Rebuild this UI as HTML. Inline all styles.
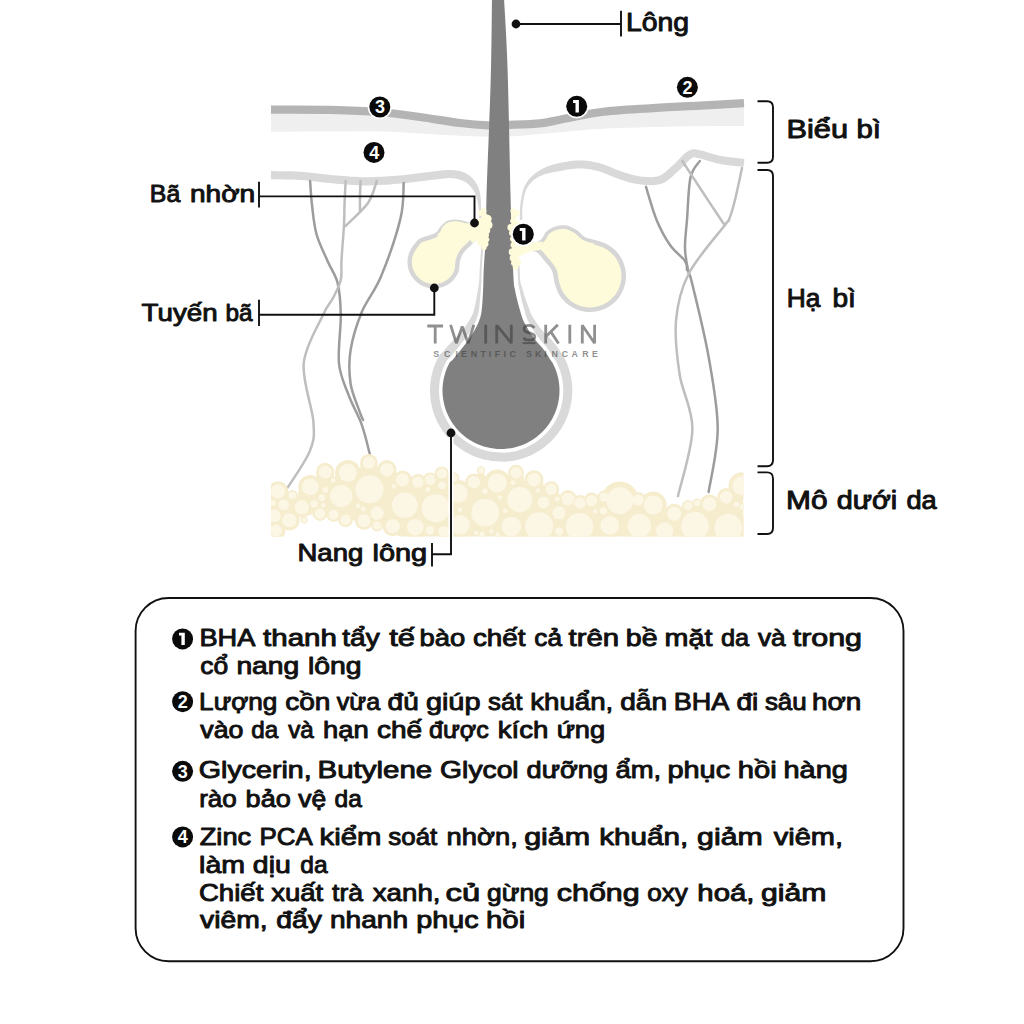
<!DOCTYPE html>
<html><head><meta charset="utf-8"><style>html,body{margin:0;padding:0;background:#fff;width:1024px;height:1024px;overflow:hidden;position:relative}</style></head><body>
<svg width="1024" height="1024" viewBox="0 0 1024 1024" style="position:absolute;left:0;top:0">
<rect width="1024" height="1024" fill="#ffffff"/>
<path d="M271.00,109.60 L275.61,109.60 L281.81,109.59 L289.20,109.57 L297.38,109.56 L305.94,109.57 L314.50,109.60 L322.65,109.68 L330.00,109.80 L336.75,109.96 L343.37,110.14 L349.85,110.36 L356.19,110.60 L362.38,110.88 L368.41,111.21 L374.29,111.58 L380.00,112.00 L385.48,112.48 L390.70,113.03 L395.73,113.63 L400.62,114.26 L405.44,114.93 L410.23,115.61 L415.07,116.31 L420.00,117.00 L425.08,117.73 L430.28,118.52 L435.53,119.34 L440.75,120.17 L445.88,120.98 L450.84,121.74 L455.57,122.42 L460.00,123.00 L464.12,123.48 L467.98,123.90 L471.64,124.26 L475.12,124.56 L478.47,124.81 L481.70,125.01 L484.87,125.17 L488.00,125.30 L490.98,125.38 L493.73,125.40 L496.34,125.36 L498.88,125.29 L501.43,125.18 L504.08,125.06 L506.91,124.93 L510.00,124.80 L513.44,124.67 L517.17,124.54 L521.10,124.40 L525.12,124.24 L529.13,124.06 L533.02,123.85 L536.67,123.59 L540.00,123.30 L542.84,122.98 L545.23,122.64 L547.35,122.28 L549.38,121.88 L551.47,121.43 L553.83,120.92 L556.61,120.35 L560.00,119.70 L563.97,118.92 L568.36,118.01 L573.10,117.01 L578.12,115.97 L583.39,114.92 L588.83,113.91 L594.38,112.99 L600.00,112.20 L605.77,111.53 L611.80,110.94 L618.02,110.42 L624.38,109.95 L630.81,109.52 L637.27,109.11 L643.68,108.71 L650.00,108.30 L656.29,107.90 L662.64,107.53 L669.01,107.19 L675.38,106.86 L681.69,106.54 L687.92,106.23 L694.04,105.91 L700.00,105.60 L706.09,105.27 L712.45,104.92 L718.87,104.57 L725.12,104.23 L730.99,103.91 L736.23,103.62 L740.65,103.38 L744.00,103.20 L744.00,125.90 L740.65,125.92 L736.23,125.94 L730.99,125.96 L725.12,125.99 L718.87,126.03 L712.45,126.08 L706.09,126.13 L700.00,126.20 L694.04,126.28 L687.92,126.36 L681.69,126.45 L675.38,126.56 L669.01,126.67 L662.64,126.80 L656.29,126.94 L650.00,127.10 L643.68,127.27 L637.27,127.45 L630.81,127.64 L624.38,127.85 L618.02,128.08 L611.80,128.32 L605.77,128.60 L600.00,128.90 L594.59,129.23 L589.53,129.60 L584.71,129.98 L580.00,130.39 L575.29,130.82 L570.47,131.27 L565.41,131.73 L560.00,132.20 L554.04,132.72 L547.55,133.30 L540.75,133.92 L533.88,134.55 L527.14,135.15 L520.77,135.70 L514.98,136.16 L510.00,136.50 L505.95,136.72 L502.67,136.84 L499.96,136.89 L497.62,136.88 L495.46,136.82 L493.27,136.74 L490.85,136.66 L488.00,136.60 L484.87,136.54 L481.70,136.48 L478.47,136.39 L475.12,136.29 L471.64,136.18 L467.98,136.04 L464.12,135.88 L460.00,135.70 L455.57,135.49 L450.84,135.24 L445.88,134.97 L440.75,134.68 L435.53,134.38 L430.28,134.08 L425.08,133.78 L420.00,133.50 L415.07,133.21 L410.23,132.89 L405.44,132.57 L400.62,132.25 L395.73,131.95 L390.70,131.68 L385.48,131.46 L380.00,131.30 L374.29,131.21 L368.41,131.18 L362.38,131.20 L356.19,131.25 L349.85,131.32 L343.37,131.39 L336.75,131.46 L330.00,131.50 L322.65,131.53 L314.50,131.55 L305.94,131.58 L297.38,131.61 L289.20,131.64 L281.81,131.66 L275.61,131.68 L271.00,131.70 Z" fill="#efefef"/>
<path d="M271.00,109.60 C280.83,109.63 311.83,109.40 330.00,109.80 C348.17,110.20 365.00,110.80 380.00,112.00 C395.00,113.20 406.67,115.17 420.00,117.00 C433.33,118.83 448.67,121.62 460.00,123.00 C471.33,124.38 479.67,125.00 488.00,125.30 C496.33,125.60 501.33,125.13 510.00,124.80 C518.67,124.47 531.67,124.15 540.00,123.30 C548.33,122.45 550.00,121.55 560.00,119.70 C570.00,117.85 585.00,114.10 600.00,112.20 C615.00,110.30 633.33,109.40 650.00,108.30 C666.67,107.20 684.33,106.45 700.00,105.60 C715.67,104.75 736.67,103.60 744.00,103.20" fill="none" stroke="#b4b4b4" stroke-width="8.2"/>
<path d="M270.94,179.30 L272.68,179.32 L274.90,179.34 L277.51,179.35 L280.43,179.37 L283.58,179.40 L286.87,179.44 L290.22,179.51 L293.53,179.60 L296.74,179.73 L299.74,179.89 L302.60,180.10 L305.45,180.37 L308.32,180.67 L311.20,181.01 L314.13,181.36 L317.09,181.73 L320.12,182.10 L323.22,182.45 L326.39,182.79 L329.64,183.08 L332.94,183.37 L336.32,183.67 L339.78,183.97 L343.31,184.27 L346.88,184.55 L350.49,184.81 L354.11,185.03 L357.75,185.21 L361.37,185.34 L364.97,185.40 L368.56,185.39 L372.18,185.33 L375.81,185.21 L379.44,185.05 L383.05,184.86 L386.63,184.63 L390.16,184.38 L393.64,184.12 L397.03,183.85 L400.35,183.59 L403.64,183.29 L406.91,182.96 L410.15,182.60 L413.34,182.22 L416.45,181.83 L419.49,181.44 L422.42,181.06 L425.23,180.70 L427.91,180.37 L430.47,180.07 L432.92,179.79 L435.27,179.50 L437.48,179.21 L439.57,178.94 L441.55,178.70 L443.42,178.48 L445.19,178.31 L446.85,178.18 L448.43,178.11 L449.95,178.10 L451.41,178.15 L452.77,178.23 L454.05,178.36 L455.25,178.53 L456.37,178.74 L457.45,178.98 L458.48,179.25 L459.48,179.56 L460.47,179.91 L461.45,180.24 L462.38,180.60 L463.26,180.98 L464.11,181.40 L464.93,181.85 L465.73,182.33 L466.51,182.85 L467.26,183.40 L468.00,183.98 L468.72,184.60 L469.42,185.25 L470.09,185.93 L470.73,186.63 L471.36,187.39 L471.96,188.18 L472.55,189.02 L473.12,189.89 L473.66,190.81 L474.19,191.77 L474.69,192.76 L475.17,193.78 L475.61,194.83 L476.03,195.95 L476.42,197.14 L476.79,198.38 L477.14,199.66 L477.46,200.97 L477.77,202.28 L478.06,203.59 L478.34,204.88 L478.61,206.13 L478.74,207.40 L478.84,208.74 L478.93,210.12 L478.99,211.50 L479.04,212.85 L479.09,214.15 L479.12,215.35 L479.15,216.42 L479.17,217.33 L479.20,218.05 L481.60,217.95 L481.57,217.25 L481.55,216.35 L481.52,215.28 L481.48,214.08 L481.44,212.77 L481.39,211.40 L481.32,209.99 L481.24,208.57 L481.13,207.19 L480.99,205.87 L480.97,204.57 L480.94,203.24 L480.90,201.88 L480.85,200.49 L480.77,199.09 L480.67,197.68 L480.53,196.29 L480.35,194.90 L480.12,193.54 L479.83,192.22 L479.50,190.97 L479.13,189.74 L478.73,188.53 L478.28,187.34 L477.79,186.17 L477.25,185.03 L476.66,183.91 L476.02,182.82 L475.32,181.76 L474.58,180.75 L473.80,179.78 L472.97,178.84 L472.10,177.94 L471.18,177.06 L470.21,176.23 L469.18,175.44 L468.10,174.69 L466.96,173.99 L465.78,173.34 L464.55,172.76 L463.32,172.23 L462.06,171.78 L460.75,171.37 L459.40,171.01 L458.00,170.70 L456.55,170.44 L455.03,170.22 L453.45,170.06 L451.80,169.95 L450.05,169.90 L448.22,169.91 L446.36,170.00 L444.47,170.14 L442.55,170.33 L440.57,170.55 L438.54,170.81 L436.43,171.08 L434.24,171.36 L431.95,171.65 L429.53,171.93 L426.94,172.23 L424.21,172.56 L421.37,172.93 L418.43,173.31 L415.42,173.70 L412.34,174.08 L409.21,174.45 L406.05,174.81 L402.86,175.13 L399.65,175.41 L396.38,175.68 L393.00,175.95 L389.57,176.20 L386.09,176.45 L382.57,176.67 L379.04,176.86 L375.50,177.02 L371.98,177.13 L368.48,177.19 L365.03,177.20 L361.58,177.14 L358.09,177.02 L354.57,176.85 L351.03,176.63 L347.50,176.37 L343.97,176.10 L340.48,175.80 L337.04,175.50 L333.65,175.20 L330.36,174.92 L327.19,174.62 L324.11,174.30 L321.08,173.95 L318.09,173.59 L315.12,173.22 L312.17,172.86 L309.22,172.52 L306.26,172.21 L303.28,171.93 L300.26,171.71 L297.12,171.54 L293.81,171.41 L290.41,171.31 L287.00,171.24 L283.67,171.20 L280.49,171.17 L277.56,171.15 L274.95,171.14 L272.76,171.12 L271.06,171.10 Z" fill="#d9d9d9"/>
<path d="M744.46,158.93 L742.99,158.76 L741.09,158.55 L738.85,158.32 L736.36,158.06 L733.69,157.77 L730.94,157.45 L728.18,157.11 L725.50,156.75 L722.99,156.37 L720.77,155.97 L718.70,155.53 L716.61,155.00 L714.51,154.41 L712.40,153.78 L710.32,153.13 L708.28,152.49 L706.29,151.88 L704.36,151.32 L702.49,150.84 L700.80,150.48 L699.46,150.22 L698.37,149.96 L697.34,149.71 L696.27,149.47 L695.07,149.29 L693.73,149.24 L692.29,149.40 L690.85,149.79 L689.44,150.38 L687.94,151.17 L686.32,152.26 L684.70,153.57 L683.10,155.04 L681.52,156.61 L679.93,158.25 L678.35,159.91 L676.78,161.54 L675.26,163.10 L673.80,164.51 L672.36,165.80 L670.87,167.09 L669.39,168.43 L667.97,169.73 L666.59,170.97 L665.25,172.13 L663.94,173.19 L662.64,174.12 L661.35,174.92 L660.06,175.58 L658.73,176.11 L657.28,176.51 L655.70,176.82 L654.00,177.03 L652.20,177.14 L650.33,177.17 L648.40,177.12 L646.43,177.01 L644.44,176.85 L642.45,176.65 L640.50,176.43 L638.63,176.17 L636.77,175.84 L634.89,175.44 L632.99,174.98 L631.08,174.46 L629.14,173.90 L627.19,173.30 L625.22,172.68 L623.23,172.04 L621.27,171.41 L619.37,170.75 L617.47,170.03 L615.54,169.24 L613.57,168.40 L611.57,167.54 L609.54,166.68 L607.47,165.83 L605.37,165.03 L603.22,164.29 L601.08,163.65 L598.98,163.10 L596.90,162.60 L594.82,162.14 L592.73,161.72 L590.64,161.36 L588.54,161.04 L586.42,160.79 L584.31,160.59 L582.18,160.46 L580.04,160.40 L577.85,160.42 L575.64,160.54 L573.43,160.74 L571.25,161.00 L569.09,161.30 L566.98,161.64 L564.92,162.00 L562.94,162.37 L561.05,162.73 L559.25,163.07 L557.51,163.40 L555.82,163.75 L554.19,164.17 L552.62,164.66 L551.08,165.17 L549.58,165.70 L548.11,166.25 L546.66,166.84 L545.24,167.47 L543.84,168.13 L542.48,168.82 L541.15,169.53 L539.84,170.27 L538.55,171.03 L537.30,171.83 L536.07,172.67 L534.89,173.54 L533.74,174.46 L532.64,175.43 L531.60,176.43 L530.61,177.46 L529.67,178.52 L528.76,179.61 L527.90,180.74 L527.08,181.91 L526.30,183.12 L525.57,184.37 L524.89,185.68 L524.25,187.03 L523.67,188.44 L523.13,189.93 L522.66,191.50 L522.24,193.13 L521.87,194.80 L521.54,196.50 L521.25,198.22 L520.99,199.93 L520.75,201.61 L520.52,203.26 L520.31,204.86 L520.13,206.50 L520.00,208.23 L519.91,210.00 L519.86,211.76 L519.83,213.49 L519.82,215.12 L519.82,216.63 L519.82,217.97 L519.82,219.10 L519.80,219.98 L522.20,220.02 L522.22,219.12 L522.22,217.98 L522.22,216.63 L522.22,215.13 L522.23,213.51 L522.26,211.82 L522.31,210.09 L522.40,208.38 L522.52,206.72 L522.69,205.14 L522.90,203.58 L523.12,201.96 L523.39,200.31 L523.69,198.65 L524.02,197.00 L524.39,195.37 L524.81,193.80 L525.27,192.29 L525.77,190.87 L526.33,189.56 L526.95,188.33 L527.61,187.16 L528.32,186.04 L529.07,184.98 L529.86,183.97 L530.69,183.01 L531.57,182.09 L532.48,181.21 L533.43,180.37 L534.40,179.57 L535.41,178.82 L536.45,178.13 L537.53,177.48 L538.66,176.87 L539.83,176.29 L541.03,175.75 L542.27,175.24 L543.54,174.76 L544.84,174.30 L546.16,173.87 L547.47,173.48 L548.79,173.13 L550.13,172.82 L551.51,172.53 L552.92,172.28 L554.37,172.05 L555.88,171.83 L557.44,171.58 L559.06,171.25 L560.75,170.93 L562.55,170.59 L564.42,170.23 L566.34,169.87 L568.30,169.53 L570.29,169.21 L572.27,168.93 L574.25,168.70 L576.20,168.52 L578.11,168.42 L579.96,168.40 L581.82,168.45 L583.69,168.57 L585.58,168.74 L587.46,168.97 L589.36,169.26 L591.27,169.59 L593.18,169.97 L595.10,170.39 L597.02,170.86 L598.92,171.35 L600.78,171.90 L602.63,172.54 L604.53,173.27 L606.46,174.06 L608.43,174.90 L610.43,175.76 L612.46,176.62 L614.53,177.47 L616.63,178.27 L618.73,178.99 L620.77,179.65 L622.78,180.30 L624.81,180.94 L626.86,181.57 L628.92,182.17 L631.01,182.73 L633.11,183.24 L635.23,183.69 L637.37,184.07 L639.50,184.37 L641.60,184.61 L643.72,184.82 L645.88,184.99 L648.08,185.12 L650.30,185.17 L652.52,185.13 L654.74,184.99 L656.94,184.72 L659.12,184.30 L661.27,183.69 L663.34,182.88 L665.29,181.89 L667.09,180.77 L668.78,179.56 L670.37,178.28 L671.89,176.97 L673.35,175.65 L674.77,174.35 L676.18,173.08 L677.64,171.80 L679.25,170.37 L680.90,168.77 L682.53,167.11 L684.13,165.43 L685.70,163.79 L687.20,162.23 L688.63,160.82 L689.94,159.61 L691.09,158.68 L692.06,158.03 L692.88,157.60 L693.47,157.35 L693.82,157.26 L694.03,157.24 L694.30,157.25 L694.77,157.33 L695.50,157.49 L696.51,157.74 L697.78,158.04 L699.20,158.32 L700.66,158.62 L702.24,159.03 L703.99,159.54 L705.90,160.13 L707.93,160.77 L710.06,161.43 L712.28,162.10 L714.56,162.73 L716.88,163.32 L719.23,163.83 L721.70,164.26 L724.36,164.67 L727.15,165.05 L729.99,165.40 L732.81,165.72 L735.51,166.01 L738.02,166.28 L740.25,166.51 L742.11,166.71 L743.54,166.87 Z" fill="#d9d9d9"/>
<path d="M482.12,213.90 L482.03,219.30 L481.92,224.77 L481.80,230.14 L481.66,235.22 L481.50,239.84 L481.31,244.10 L481.09,248.21 L480.85,252.16 L480.59,255.98 L480.34,259.65 L480.10,263.17 L479.88,266.56 L479.70,269.81 L479.58,272.83 L479.49,275.59 L479.42,278.14 L479.30,280.55 L478.98,282.85 L478.66,285.11 L478.31,287.39 L477.92,289.76 L477.49,292.28 L477.03,294.91 L476.56,297.58 L476.08,300.20 L475.60,302.74 L475.12,305.11 L474.65,307.25 L474.20,309.10 L473.79,310.64 L473.43,311.89 L473.09,312.89 L472.77,313.70 L472.45,314.44 L472.09,315.20 L471.67,316.07 L471.18,317.06 L470.66,318.04 L470.11,318.99 L469.52,319.97 L468.89,320.97 L468.22,322.00 L467.51,323.05 L466.78,324.13 L466.02,325.20 L465.26,326.26 L464.48,327.30 L463.68,328.34 L462.86,329.39 L462.01,330.44 L461.14,331.49 L460.24,332.55 L459.34,333.58 L458.46,334.61 L457.54,335.64 L456.57,336.71 L455.55,337.81 L454.50,338.94 L453.42,340.10 L452.31,341.29 L451.20,342.49 L450.06,343.71 L448.84,345.02 L447.58,346.36 L446.36,347.74 L445.27,349.09 L444.27,350.31 L443.43,351.34 L444.07,350.77 L439.98,354.51 L436.86,360.05 L435.17,363.90 L433.72,367.83 L432.49,371.84 L431.51,375.92 L430.77,380.05 L430.28,384.22 L430.03,388.41 L430.03,392.60 L430.28,396.79 L430.77,400.96 L431.51,405.09 L432.50,409.17 L433.72,413.18 L435.18,417.11 L436.86,420.95 L438.77,424.69 L440.90,428.31 L443.24,431.79 L445.78,435.13 L448.51,438.31 L451.43,441.33 L454.52,444.17 L457.77,446.82 L461.17,449.28 L464.71,451.53 L468.38,453.56 L472.16,455.38 L476.04,456.97 L480.01,458.33 L484.06,459.45 L488.16,460.33 L492.30,460.97 L496.48,461.36 L500.67,461.50 L504.89,461.69 L509.08,461.34 L513.25,460.74 L517.38,459.89 L521.45,458.80 L525.45,457.48 L529.36,455.92 L533.18,454.13 L536.88,452.11 L540.46,449.89 L543.90,447.45 L547.18,444.82 L550.31,442.00 L553.27,439.00 L556.04,435.82 L558.62,432.49 L561.00,429.02 L563.17,425.41 L565.12,421.67 L566.85,417.83 L568.35,413.89 L569.62,409.87 L570.64,405.79 L571.42,401.65 L571.96,397.47 L572.25,393.26 L572.29,389.05 L572.08,384.84 L571.62,380.66 L570.91,376.50 L569.96,372.40 L568.77,368.35 L567.35,364.39 L565.69,360.52 L563.48,356.17 L560.97,352.64 L560.88,352.46 L560.28,351.50 L559.52,350.25 L558.63,348.82 L557.57,347.30 L556.39,345.74 L555.14,344.15 L553.83,342.56 L552.49,341.01 L551.14,339.57 L549.82,338.24 L548.57,337.00 L547.39,335.85 L546.31,334.79 L545.34,333.82 L544.46,332.89 L543.57,331.89 L542.66,330.83 L541.77,329.77 L540.90,328.71 L540.05,327.64 L539.22,326.56 L538.41,325.48 L537.61,324.39 L536.81,323.28 L536.04,322.18 L535.30,321.11 L534.59,320.05 L533.93,319.02 L533.30,318.02 L532.72,317.05 L532.19,316.12 L531.71,315.22 L531.27,314.30 L530.84,313.32 L530.41,312.28 L529.98,311.16 L529.54,309.98 L529.08,308.73 L528.61,307.47 L528.15,306.26 L527.71,305.09 L527.27,303.92 L526.85,302.74 L526.43,301.57 L526.02,300.39 L525.61,299.21 L525.21,298.03 L524.82,296.84 L524.43,295.64 L524.04,294.46 L523.67,293.29 L523.31,292.13 L522.96,290.97 L522.63,289.82 L522.30,288.58 L521.95,287.36 L521.63,286.36 L521.41,285.80 L521.27,285.49 L521.09,284.97 L520.84,283.92 L520.51,282.18 L520.09,279.61 L519.90,276.15 L519.71,271.94 L519.50,267.15 L519.30,261.94 L517.30,262.02 L517.51,267.24 L517.71,272.03 L517.90,276.25 L518.09,279.73 L518.27,282.35 L518.42,284.16 L518.56,285.32 L518.68,286.00 L518.79,286.46 L518.95,287.06 L519.18,287.97 L519.42,289.14 L519.64,290.40 L519.86,291.60 L520.10,292.81 L520.35,294.03 L520.62,295.25 L520.89,296.48 L521.17,297.72 L521.46,298.95 L521.75,300.19 L522.04,301.41 L522.35,302.64 L522.66,303.87 L522.98,305.10 L523.31,306.33 L523.65,307.56 L524.00,308.81 L524.35,310.08 L524.69,311.35 L525.03,312.58 L525.36,313.79 L525.71,314.97 L526.08,316.12 L526.48,317.25 L526.92,318.37 L527.41,319.51 L527.95,320.67 L528.54,321.85 L529.16,323.03 L529.81,324.23 L530.50,325.44 L531.20,326.66 L531.93,327.88 L532.68,329.10 L533.44,330.32 L534.22,331.53 L535.03,332.75 L535.85,333.96 L536.71,335.17 L537.59,336.39 L538.48,337.58 L539.41,338.75 L540.41,339.94 L541.47,341.16 L542.59,342.41 L543.72,343.69 L544.86,345.00 L545.97,346.34 L547.03,347.71 L548.06,349.13 L549.08,350.62 L550.07,352.13 L551.01,353.60 L551.86,354.98 L552.62,356.21 L553.24,357.22 L553.61,357.81 L555.78,360.84 L557.52,364.30 L558.97,367.69 L560.22,371.15 L561.26,374.68 L562.09,378.27 L562.70,381.90 L563.10,385.56 L563.29,389.23 L563.25,392.92 L563.00,396.59 L562.53,400.24 L561.85,403.86 L560.96,407.43 L559.85,410.94 L558.54,414.38 L557.03,417.74 L555.32,421.00 L553.43,424.15 L551.35,427.19 L549.09,430.10 L546.67,432.87 L544.09,435.50 L541.35,437.96 L538.48,440.26 L535.48,442.39 L532.35,444.34 L529.12,446.09 L525.78,447.66 L522.36,449.02 L518.87,450.18 L515.31,451.13 L511.71,451.87 L508.06,452.40 L504.40,452.71 L500.72,452.50 L497.05,452.37 L493.41,452.03 L489.79,451.48 L486.20,450.71 L482.67,449.73 L479.21,448.54 L475.82,447.15 L472.51,445.57 L469.31,443.79 L466.22,441.83 L463.25,439.68 L460.41,437.37 L457.71,434.89 L455.17,432.25 L452.78,429.47 L450.56,426.56 L448.52,423.51 L446.66,420.36 L444.99,417.09 L443.52,413.74 L442.25,410.30 L441.18,406.80 L440.32,403.24 L439.68,399.63 L439.24,395.99 L439.03,392.34 L439.03,388.67 L439.24,385.02 L439.67,381.38 L440.32,377.77 L441.18,374.21 L442.25,370.70 L443.52,367.27 L444.99,363.91 L447.00,360.15 L450.14,357.42 L450.41,357.02 L451.25,355.99 L452.24,354.77 L453.35,353.42 L454.51,351.99 L455.68,350.54 L456.82,349.13 L457.87,347.81 L458.87,346.56 L459.88,345.30 L460.88,344.06 L461.87,342.82 L462.84,341.60 L463.78,340.38 L464.68,339.18 L465.54,337.98 L466.41,336.79 L467.26,335.59 L468.09,334.39 L468.89,333.20 L469.67,332.01 L470.42,330.81 L471.15,329.62 L471.86,328.43 L472.55,327.23 L473.22,326.03 L473.86,324.83 L474.48,323.65 L475.06,322.47 L475.61,321.31 L476.11,320.15 L476.58,318.99 L476.99,317.87 L477.36,316.85 L477.67,315.90 L477.95,314.95 L478.20,313.92 L478.45,312.73 L478.71,311.34 L478.97,309.67 L479.24,307.71 L479.50,305.48 L479.75,303.04 L480.00,300.46 L480.23,297.79 L480.45,295.10 L480.66,292.45 L480.85,289.89 L481.02,287.49 L481.15,285.18 L481.26,282.90 L481.36,280.59 L481.42,278.19 L481.49,275.65 L481.57,272.90 L481.70,269.90 L481.88,266.68 L482.09,263.31 L482.33,259.78 L482.59,256.11 L482.84,252.29 L483.09,248.32 L483.31,244.20 L483.50,239.92 L483.66,235.28 L483.80,230.19 L483.92,224.81 L484.03,219.34 L484.12,213.94 Z" fill="#d9d9d9"/>
<path d="M606.90,244.21 L608.62,245.21 L610.30,246.31 L611.94,247.49 L613.51,248.76 L615.01,250.11 L616.40,251.52 L617.71,253.02 L618.94,254.61 L620.10,256.27 L621.16,257.99 L622.12,259.75 L622.97,261.55 L623.72,263.39 L624.36,265.29 L624.91,267.24 L625.35,269.22 L625.68,271.20 L625.89,273.18 L625.99,275.16 L625.97,277.17 L625.85,279.19 L625.61,281.20 L625.27,283.18 L624.83,285.12 L624.27,287.02 L623.59,288.92 L622.81,290.78 L621.93,292.60 L620.96,294.36 L619.90,296.04 L618.75,297.66 L617.49,299.23 L616.14,300.74 L614.71,302.17 L613.22,303.51 L611.67,304.75 L610.05,305.90 L608.34,306.97 L606.57,307.95 L604.75,308.83 L602.90,309.61 L601.02,310.27 L599.12,310.82 L597.16,311.27 L595.16,311.62 L593.15,311.85 L591.15,311.98 L589.16,311.99 L587.18,311.89 L585.18,311.67 L583.18,311.34 L581.21,310.90 L579.27,310.36 L577.39,309.72 L575.55,308.97 L573.74,308.11 L571.96,307.14 L570.24,306.08 L568.59,304.93 L567.02,303.71 L565.53,302.40 L564.10,300.99 L562.74,299.49 L561.46,297.92 L560.27,296.30 L559.20,294.63 L558.24,292.91 L557.41,291.12 L556.68,289.27 L556.01,287.38 L555.39,285.44 L554.79,283.48 L554.28,281.45 L553.89,279.31 L553.56,277.14 L553.18,274.99 L552.69,272.92 L552.00,271.00 L551.09,269.24 L550.02,267.59 L548.83,266.03 L547.56,264.52 L546.27,263.02 L545.00,261.50 L543.70,259.89 L542.33,258.20 L540.94,256.53 L539.56,254.96 L538.23,253.59 L537.00,252.50 L535.83,251.79 L534.67,251.41 L533.56,251.22 L532.56,251.09 L531.69,250.90 L531.00,250.50 L530.41,249.92 L529.85,249.26 L529.44,248.53 L529.26,247.73 L529.41,246.89 L530.00,246.00 L531.20,245.06 L532.98,244.07 L535.09,243.03 L537.30,241.94 L539.35,240.79 L541.00,239.60 L542.20,238.30 L543.14,236.87 L543.93,235.39 L544.67,233.94 L545.49,232.58 L546.50,231.40 L547.68,230.38 L548.93,229.45 L550.26,228.63 L551.67,227.89 L553.15,227.25 L554.70,226.70 L556.36,226.21 L558.13,225.76 L559.98,225.41 L561.86,225.19 L563.75,225.14 L565.60,225.30 L567.46,225.70 L569.36,226.33 L571.27,227.13 L573.14,228.04 L574.93,229.02 L576.60,230.00 L578.10,231.06 L579.44,232.27 L580.71,233.54 L581.97,234.79 L583.31,235.93 L584.80,236.90 L586.46,237.65 L588.22,238.24 L590.06,238.73 L591.94,239.18 L593.83,239.65 L595.70,240.20 L597.57,240.79 L599.47,241.36 L601.39,241.96 L603.28,242.61 L605.13,243.35 Z" fill="#d6d6d6"/>
<path d="M604.73,248.27 L606.21,249.13 L607.70,250.10 L609.14,251.15 L610.53,252.26 L611.83,253.44 L613.03,254.65 L614.16,255.95 L615.24,257.33 L616.25,258.79 L617.18,260.30 L618.02,261.84 L618.76,263.40 L619.40,264.99 L619.97,266.65 L620.45,268.36 L620.83,270.09 L621.12,271.83 L621.30,273.54 L621.39,275.26 L621.38,277.01 L621.27,278.78 L621.06,280.54 L620.76,282.27 L620.38,283.95 L619.89,285.60 L619.30,287.26 L618.62,288.89 L617.85,290.49 L617.00,292.03 L616.08,293.48 L615.08,294.88 L613.98,296.25 L612.80,297.57 L611.55,298.83 L610.24,300.00 L608.90,301.08 L607.49,302.07 L606.01,303.01 L604.45,303.86 L602.86,304.64 L601.24,305.32 L599.62,305.89 L597.96,306.37 L596.25,306.76 L594.50,307.06 L592.74,307.27 L590.99,307.38 L589.27,307.39 L587.55,307.30 L585.81,307.11 L584.06,306.82 L582.32,306.44 L580.63,305.97 L579.00,305.41 L577.41,304.76 L575.82,304.01 L574.27,303.16 L572.76,302.23 L571.31,301.23 L569.96,300.17 L568.66,299.03 L567.41,297.80 L566.22,296.49 L565.10,295.12 L564.07,293.70 L563.14,292.27 L562.35,290.83 L561.64,289.30 L560.98,287.66 L560.37,285.91 L559.78,284.06 L559.22,282.25 L558.78,280.48 L558.43,278.55 L558.09,276.39 L557.69,274.06 L557.10,271.62 L556.22,269.17 L555.06,266.92 L553.77,264.94 L552.42,263.16 L551.07,261.55 L549.78,260.04 L548.55,258.58 L547.28,257.00 L545.89,255.28 L544.43,253.54 L542.94,251.85 L541.42,250.28 L539.76,248.82 L537.78,247.62 L535.79,246.95 L534.24,246.67 L533.33,246.56 L533.33,246.60 L533.79,246.85 L533.79,246.80 L533.63,246.63 L533.72,246.86 L533.86,247.67 L533.64,248.70 L533.29,249.22 L533.70,248.93 L535.11,248.15 L537.14,247.15 L539.44,246.01 L541.80,244.68 L543.37,242.31 L545.04,240.52 L546.24,238.71 L547.12,237.06 L547.81,235.69 L548.41,234.69 L549.06,233.93 L549.93,233.19 L550.95,232.43 L552.05,231.75 L553.21,231.14 L554.46,230.60 L555.82,230.12 L557.31,229.68 L558.90,229.28 L560.52,228.97 L562.12,228.78 L563.64,228.74 L565.06,228.86 L566.51,229.18 L568.10,229.70 L569.78,230.41 L571.49,231.24 L573.16,232.15 L574.65,233.02 L575.85,233.88 L576.96,234.88 L578.17,236.09 L579.53,237.43 L581.15,238.82 L583.08,240.06 L585.14,241.00 L587.19,241.69 L589.18,242.22 L591.09,242.68 L592.89,243.12 L594.36,244.60 L596.21,245.19 L598.13,245.76 L599.96,246.33 L601.68,246.92 L603.26,247.55 Z" fill="#fdfbd9"/>
<path d="M543,241.5 L532,242.5 L518,238 L516,258 L530,251.5 L540,250 Z" fill="#fdfbd9"/>
<path d="M457.40,274.44 L456.72,275.58 L455.92,276.79 L455.02,278.04 L454.04,279.27 L453.01,280.44 L451.94,281.51 L450.82,282.48 L449.63,283.39 L448.39,284.24 L447.10,285.03 L445.78,285.73 L444.44,286.36 L443.06,286.90 L441.64,287.37 L440.18,287.76 L438.71,288.07 L437.23,288.30 L435.76,288.44 L434.28,288.50 L432.78,288.47 L431.28,288.35 L429.78,288.16 L428.31,287.88 L426.87,287.52 L425.46,287.08 L424.06,286.56 L422.68,285.95 L421.33,285.27 L420.04,284.52 L418.80,283.71 L417.61,282.82 L416.47,281.86 L415.37,280.83 L414.32,279.74 L413.35,278.60 L412.45,277.43 L411.63,276.20 L410.86,274.91 L410.17,273.57 L409.55,272.20 L409.01,270.80 L408.55,269.39 L408.18,267.96 L407.89,266.49 L407.68,265.00 L407.55,263.50 L407.50,262.00 L407.54,260.52 L407.67,259.05 L407.88,257.56 L408.18,256.09 L408.55,254.63 L409.01,253.20 L409.53,251.82 L410.16,250.47 L410.90,249.14 L411.72,247.85 L412.58,246.59 L413.45,245.40 L414.31,244.27 L415.09,243.20 L415.84,242.19 L416.59,241.22 L417.41,240.32 L418.36,239.48 L419.50,238.70 L420.90,238.00 L422.54,237.39 L424.30,236.84 L426.08,236.32 L427.79,235.82 L429.30,235.30 L430.63,234.82 L431.86,234.39 L433.01,233.98 L434.09,233.53 L435.11,232.99 L436.10,232.30 L437.02,231.42 L437.84,230.39 L438.61,229.27 L439.36,228.12 L440.15,227.01 L441.00,226.00 L441.90,225.06 L442.82,224.14 L443.77,223.26 L444.76,222.44 L445.80,221.71 L446.90,221.10 L448.09,220.61 L449.36,220.22 L450.68,219.93 L452.03,219.71 L453.38,219.57 L454.70,219.50 L456.02,219.52 L457.35,219.64 L458.68,219.83 L460.00,220.07 L461.28,220.34 L462.50,220.60 L463.65,220.86 L464.74,221.15 L465.80,221.46 L466.84,221.79 L467.90,222.14 L469.00,222.50 L470.16,222.85 L471.37,223.20 L472.59,223.56 L473.80,223.96 L474.94,224.43 L476.00,225.00 L477.00,225.68 L477.98,226.44 L478.91,227.28 L479.74,228.17 L480.45,229.08 L481.00,230.00 L481.39,230.97 L481.64,232.01 L481.78,233.08 L481.79,234.13 L481.69,235.12 L481.50,236.00 L481.15,236.78 L480.64,237.49 L480.01,238.14 L479.34,238.72 L478.68,239.24 L478.10,239.70 L477.61,240.03 L477.17,240.21 L476.74,240.32 L476.30,240.46 L475.79,240.69 L475.20,241.10 L474.52,241.69 L473.79,242.40 L472.99,243.21 L472.15,244.09 L471.25,245.03 L470.30,246.00 L469.24,247.02 L468.05,248.12 L466.81,249.27 L465.59,250.46 L464.46,251.67 L463.50,252.90 L462.71,254.15 L462.02,255.43 L461.43,256.74 L460.92,258.07 L460.48,259.39 L460.10,260.70 L459.82,262.02 L459.65,263.37 L459.55,264.72 L459.47,266.04 L459.37,267.31 L459.20,268.50 L458.99,269.58 L458.80,270.58 L458.58,271.52 L458.30,272.45 L457.92,273.41 Z" fill="#d6d6d6"/>
<path d="M453.54,272.32 L452.99,273.24 L452.30,274.30 L451.52,275.38 L450.67,276.45 L449.81,277.42 L448.94,278.28 L448.03,279.07 L447.04,279.83 L446.00,280.55 L444.92,281.21 L443.82,281.80 L442.71,282.31 L441.57,282.76 L440.38,283.15 L439.16,283.48 L437.92,283.74 L436.68,283.93 L435.46,284.05 L434.24,284.10 L432.99,284.07 L431.73,283.97 L430.47,283.81 L429.24,283.58 L428.06,283.29 L426.89,282.92 L425.72,282.48 L424.56,281.97 L423.43,281.40 L422.35,280.77 L421.32,280.10 L420.34,279.37 L419.38,278.57 L418.46,277.70 L417.59,276.79 L416.77,275.84 L416.03,274.86 L415.35,273.85 L414.71,272.77 L414.13,271.65 L413.61,270.50 L413.15,269.33 L412.78,268.17 L412.47,266.98 L412.23,265.75 L412.05,264.50 L411.94,263.24 L411.90,261.99 L411.93,260.77 L412.04,259.55 L412.22,258.31 L412.47,257.07 L412.78,255.84 L413.16,254.65 L413.59,253.53 L414.08,252.47 L414.69,251.39 L415.39,250.27 L416.17,249.14 L416.99,248.02 L417.83,246.90 L418.64,245.80 L419.34,244.84 L419.95,244.07 L420.50,243.46 L421.06,242.95 L421.71,242.50 L422.64,242.04 L423.96,241.55 L425.57,241.05 L427.32,240.55 L429.12,240.01 L430.76,239.45 L432.10,238.96 L433.32,238.54 L434.60,238.08 L435.97,237.51 L437.40,236.74 L437.75,234.31 L438.94,233.18 L439.93,231.94 L440.77,230.72 L441.51,229.58 L441.57,228.11 L442.34,227.21 L443.19,226.32 L444.07,225.43 L444.96,224.61 L445.85,223.87 L446.75,223.24 L447.68,222.72 L448.70,222.31 L449.82,221.96 L451.02,221.69 L452.26,221.50 L453.52,221.37 L454.74,221.30 L455.92,221.32 L457.14,221.42 L458.39,221.61 L459.65,221.84 L460.91,222.10 L462.11,222.36 L463.22,222.61 L464.26,222.89 L465.27,223.18 L466.29,223.51 L467.34,223.85 L468.46,224.22 L469.65,224.58 L470.87,224.93 L472.05,225.27 L473.17,225.65 L474.17,226.06 L475.07,226.54 L475.94,227.13 L476.82,227.82 L477.65,228.57 L477.77,229.86 L478.31,230.55 L478.67,231.16 L478.91,231.76 L479.09,232.48 L479.18,233.26 L479.19,234.03 L479.13,234.72 L477.32,234.63 L477.35,234.57 L477.26,234.66 L476.98,234.95 L476.53,235.34 L475.96,235.79 L475.51,236.15 L475.50,236.16 L475.74,236.05 L475.53,236.10 L474.72,236.35 L473.57,236.89 L472.48,237.64 L471.54,238.45 L470.69,239.28 L469.83,240.14 L468.97,241.05 L468.09,241.97 L467.20,242.88 L466.22,243.82 L465.06,244.89 L463.78,246.08 L462.44,247.39 L461.11,248.82 L459.91,250.36 L458.91,251.93 L458.07,253.49 L457.37,255.05 L456.78,256.58 L456.28,258.08 L455.83,259.62 L455.48,261.29 L455.27,262.94 L455.16,264.43 L455.08,265.74 L455.00,266.82 L454.86,267.78 L454.67,268.76 L454.50,269.66 L454.33,270.38 L454.15,270.99 L453.91,271.59 Z" fill="#fdfbd9"/>
<path d="M462,223.5 L476,223 L485,226 L486,244 L479,239.5 L472,243 Z" fill="#fdfbd9"/>
<path d="M492.00,-2.00 L491.92,4.20 L491.82,12.31 L491.71,21.95 L491.58,32.75 L491.42,44.33 L491.22,56.31 L490.99,68.33 L490.70,80.00 L490.33,92.19 L489.87,105.61 L489.35,119.70 L488.81,133.88 L488.27,147.57 L487.76,160.20 L487.33,171.21 L487.00,180.00 L486.78,186.19 L486.64,190.16 L486.56,192.48 L486.53,193.75 L486.51,194.55 L486.50,195.47 L486.47,197.09 L486.40,200.00 L486.31,204.11 L486.22,208.83 L486.12,213.97 L486.02,219.38 L485.92,224.85 L485.80,230.23 L485.66,235.34 L485.50,240.00 L485.31,244.30 L485.09,248.44 L484.84,252.42 L484.58,256.25 L484.33,259.92 L484.09,263.44 L483.87,266.80 L483.70,270.00 L483.57,272.98 L483.48,275.70 L483.42,278.23 L483.38,280.62 L483.33,282.94 L483.28,285.23 L483.21,287.57 L483.10,290.00 L482.97,292.57 L482.83,295.23 L482.67,297.94 L482.51,300.62 L482.33,303.23 L482.13,305.70 L481.92,307.98 L481.70,310.00 L481.47,311.73 L481.24,313.20 L481.01,314.48 L480.76,315.62 L480.48,316.69 L480.16,317.73 L479.81,318.82 L479.40,320.00 L478.94,321.25 L478.43,322.50 L477.88,323.75 L477.30,325.00 L476.69,326.25 L476.04,327.50 L475.38,328.75 L474.70,330.00 L474.00,331.25 L473.27,332.50 L472.52,333.75 L471.74,335.00 L470.94,336.25 L470.12,337.50 L469.27,338.75 L468.40,340.00 L467.50,341.25 L466.56,342.50 L465.60,343.75 L464.61,345.00 L463.61,346.25 L462.61,347.50 L461.60,348.75 L460.60,350.00 L459.55,351.32 L458.41,352.73 L457.23,354.19 L456.06,355.62 L454.96,356.98 L453.96,358.20 L453.13,359.23 L452.50,360.00 L449.73,362.34 L448.15,365.41 L446.76,368.58 L445.56,371.82 L444.56,375.13 L443.75,378.49 L443.14,381.89 L442.73,385.33 L442.53,388.78 L442.53,392.23 L442.73,395.68 L443.14,399.12 L443.75,402.52 L444.56,405.88 L445.56,409.19 L446.77,412.43 L448.16,415.59 L449.73,418.67 L451.48,421.65 L453.41,424.52 L455.50,427.27 L457.75,429.89 L460.16,432.38 L462.70,434.72 L465.38,436.90 L468.18,438.93 L471.10,440.78 L474.12,442.46 L477.24,443.96 L480.44,445.27 L483.71,446.39 L487.04,447.31 L490.42,448.04 L493.84,448.56 L497.28,448.88 L500.73,449.00 L504.19,448.91 L507.63,448.62 L511.05,448.13 L514.44,447.44 L517.78,446.54 L521.06,445.45 L524.27,444.17 L527.40,442.70 L530.44,441.05 L533.37,439.23 L536.19,437.23 L538.89,435.07 L541.46,432.75 L543.88,430.29 L546.16,427.69 L548.28,424.95 L550.23,422.10 L552.01,419.14 L553.61,416.08 L555.03,412.92 L556.26,409.69 L557.30,406.40 L558.14,403.04 L558.78,399.65 L559.22,396.22 L559.46,392.77 L559.49,389.31 L559.32,385.86 L558.94,382.42 L558.36,379.01 L557.58,375.65 L556.61,372.33 L555.44,369.08 L554.08,365.90 L552.53,362.81 L550.50,360.00 L550.01,359.23 L549.38,358.20 L548.63,356.98 L547.79,355.62 L546.88,354.19 L545.93,352.73 L544.96,351.32 L544.00,350.00 L543.01,348.75 L541.96,347.50 L540.85,346.25 L539.72,345.00 L538.59,343.75 L537.48,342.50 L536.41,341.25 L535.40,340.00 L534.45,338.75 L533.52,337.50 L532.62,336.25 L531.75,335.00 L530.90,333.75 L530.08,332.50 L529.28,331.25 L528.50,330.00 L527.74,328.75 L526.99,327.50 L526.27,326.25 L525.57,325.00 L524.90,323.75 L524.26,322.50 L523.66,321.25 L523.10,320.00 L522.59,318.75 L522.13,317.50 L521.72,316.25 L521.33,315.00 L520.97,313.75 L520.61,312.50 L520.26,311.25 L519.90,310.00 L519.54,308.75 L519.18,307.50 L518.83,306.25 L518.49,305.00 L518.15,303.75 L517.83,302.50 L517.51,301.25 L517.20,300.00 L516.90,298.75 L516.60,297.50 L516.30,296.25 L516.02,295.00 L515.74,293.75 L515.48,292.50 L515.23,291.25 L515.00,290.00 L514.79,288.96 L514.60,288.20 L514.43,287.57 L514.26,286.88 L514.10,285.95 L513.95,284.61 L513.78,282.69 L513.60,280.00 L513.41,276.47 L513.21,272.23 L513.01,267.42 L512.81,262.19 L512.60,256.68 L512.40,251.05 L512.20,245.44 L512.00,240.00 L511.82,235.16 L511.65,230.98 L511.49,227.01 L511.33,222.81 L511.16,217.95 L510.97,211.99 L510.75,204.49 L510.50,195.00 L510.21,182.84 L509.89,168.13 L509.55,151.66 L509.18,134.19 L508.80,116.51 L508.41,99.40 L508.01,83.64 L507.60,70.00 L507.16,57.97 L506.66,46.59 L506.14,35.95 L505.62,26.19 L505.12,17.40 L504.66,9.70 L504.28,3.19 L504.00,-2.00 Z" fill="#808080"/>
<circle cx="483.5" cy="211" r="3" fill="#fdfbd9"/>
<circle cx="484.5" cy="216" r="3" fill="#fdfbd9"/>
<circle cx="487.5" cy="219" r="4.2" fill="#fdfbd9"/>
<circle cx="488.5" cy="225" r="4" fill="#fdfbd9"/>
<circle cx="487" cy="230.5" r="3.2" fill="#fdfbd9"/>
<circle cx="486" cy="235" r="3" fill="#fdfbd9"/>
<circle cx="486.5" cy="239.5" r="2.8" fill="#fdfbd9"/>
<circle cx="485.5" cy="244" r="3" fill="#fdfbd9"/>
<circle cx="484" cy="247.5" r="2.6" fill="#fdfbd9"/>
<circle cx="481" cy="213" r="3" fill="#fdfbd9"/>
<circle cx="481" cy="222" r="4" fill="#fdfbd9"/>
<circle cx="481" cy="232" r="5" fill="#fdfbd9"/>
<circle cx="481" cy="242" r="4" fill="#fdfbd9"/>
<circle cx="513" cy="211" r="2.6" fill="#fdfbd9"/>
<circle cx="514" cy="216" r="3" fill="#fdfbd9"/>
<circle cx="513" cy="221" r="2.8" fill="#fdfbd9"/>
<circle cx="511" cy="227.5" r="3.6" fill="#fdfbd9"/>
<circle cx="512" cy="233" r="3" fill="#fdfbd9"/>
<circle cx="513" cy="239" r="3" fill="#fdfbd9"/>
<circle cx="513.5" cy="245" r="3" fill="#fdfbd9"/>
<circle cx="512.5" cy="252" r="3.8" fill="#fdfbd9"/>
<circle cx="513" cy="258" r="3.3" fill="#fdfbd9"/>
<circle cx="514" cy="263" r="3" fill="#fdfbd9"/>
<circle cx="515.5" cy="267" r="2.8" fill="#fdfbd9"/>
<circle cx="516.5" cy="213" r="3" fill="#fdfbd9"/>
<circle cx="516.5" cy="225" r="4" fill="#fdfbd9"/>
<circle cx="516.5" cy="240" r="5" fill="#fdfbd9"/>
<circle cx="517" cy="252" r="5" fill="#fdfbd9"/>
<circle cx="517" cy="262" r="4" fill="#fdfbd9"/>
<path d="M310.10,181.00 C310.42,185.00 310.92,196.08 312.00,205.00 C313.08,213.92 313.93,225.00 316.60,234.50 C319.27,244.00 324.50,253.92 328.00,262.00 C331.50,270.08 335.47,274.17 337.60,283.00 C339.73,291.83 340.57,301.58 340.80,315.00 C341.03,328.42 337.65,350.03 339.00,363.50 C340.35,376.97 345.10,385.58 348.90,395.80 C352.70,406.02 358.32,415.10 361.80,424.80 C365.28,434.50 368.47,449.13 369.80,454.00" fill="none" stroke="#9c9c9c" stroke-width="2.5" stroke-linecap="round"/>
<path d="M345.60,181.00 C345.42,185.00 344.77,197.70 344.50,205.00 C344.23,212.30 344.50,215.63 344.00,224.80 C343.50,233.97 342.03,250.85 341.50,260.00 C340.97,269.15 342.22,273.37 340.80,279.70 C339.38,286.03 335.97,292.12 333.00,298.00 C330.03,303.88 327.88,304.08 323.00,315.00 C318.12,325.92 305.30,345.73 303.70,363.50 C302.10,381.27 312.35,407.08 313.40,421.60 C314.45,436.12 314.30,439.58 310.00,450.60 C305.70,461.62 291.33,481.52 287.60,487.70" fill="none" stroke="#bebebe" stroke-width="2.5" stroke-linecap="round"/>
<path d="M376.80,181.00 C375.33,184.67 373.30,195.42 368.00,203.00 C362.70,210.58 348.83,222.58 345.00,226.50" fill="none" stroke="#bebebe" stroke-width="2.5" stroke-linecap="round"/>
<path d="M360.60,181.00 C360.50,183.50 360.10,190.83 360.00,196.00 C359.90,201.17 360.00,209.33 360.00,212.00" fill="none" stroke="#bebebe" stroke-width="2.5" stroke-linecap="round"/>
<path d="M403.70,183.00 C403.17,188.90 404.28,202.82 400.50,218.40 C396.72,233.98 387.45,260.90 381.00,276.50 C374.55,292.10 366.88,299.65 361.80,312.00 C356.72,324.35 352.38,338.77 350.50,350.60 C348.62,362.43 349.17,373.32 350.50,383.00 C351.83,392.68 356.42,402.53 358.50,408.70 C360.58,414.87 362.25,418.12 363.00,420.00" fill="none" stroke="#9c9c9c" stroke-width="2.5" stroke-linecap="round"/>
<path d="M646.00,186.90 C647.75,192.37 652.50,210.02 656.50,219.70 C660.50,229.38 665.25,238.12 670.00,245.00 C674.75,251.88 682.17,256.83 685.00,261.00 C687.83,265.17 686.67,268.50 687.00,270.00" fill="none" stroke="#9c9c9c" stroke-width="2.5" stroke-linecap="round"/>
<path d="M699.80,161.00 C698.25,163.75 692.63,167.72 690.50,177.50 C688.37,187.28 687.92,207.95 687.00,219.70 C686.08,231.45 684.83,239.62 685.00,248.00 C685.17,256.38 686.77,263.92 688.00,270.00 C689.23,276.08 688.97,270.03 692.40,284.50 C695.83,298.97 704.38,332.72 708.60,356.80 C712.82,380.88 717.70,406.47 717.70,429.00 C717.70,451.53 710.12,481.50 708.60,492.00" fill="none" stroke="#9c9c9c" stroke-width="2.5" stroke-linecap="round"/>
<path d="M682.30,161.00 C685.25,165.50 693.55,178.22 700.00,188.00 C706.45,197.78 716.83,213.53 721.00,219.70 C725.17,225.87 724.33,224.12 725.00,225.00" fill="none" stroke="#bebebe" stroke-width="2.5" stroke-linecap="round"/>
<path d="M742.00,168.00 C740.83,173.33 737.17,191.38 735.00,200.00 C732.83,208.62 730.67,215.53 729.00,219.70 C727.33,223.87 731.72,216.00 725.00,225.00 C718.28,234.00 696.87,257.77 688.70,273.70 C680.53,289.63 677.50,303.75 676.00,320.60 C674.50,337.45 676.97,356.73 679.70,374.80 C682.43,392.87 692.68,408.80 692.40,429.00 C692.12,449.20 680.40,484.83 678.00,496.00" fill="none" stroke="#bebebe" stroke-width="2.5" stroke-linecap="round"/>
<defs><clipPath id="fatclip"><rect x="271" y="440" width="472.5" height="96.5"/></clipPath></defs>
<g clip-path="url(#fatclip)">
<path d="M271.00,489.98 L273.00,488.51 L275.00,487.65 L277.00,487.25 L279.00,487.25 L281.00,487.65 L283.00,488.51 L285.00,489.98 L287.00,492.60 L289.00,497.10 L291.00,496.16 L293.00,496.04 L295.00,496.71 L297.00,498.64 L299.00,488.86 L301.00,485.32 L303.00,483.38 L305.00,482.13 L307.00,481.36 L309.00,480.97 L311.00,480.92 L313.00,481.21 L315.00,481.86 L317.00,473.83 L319.00,471.20 L321.00,469.81 L323.00,469.07 L325.00,468.80 L327.00,468.98 L329.00,469.62 L331.00,470.86 L333.00,473.12 L335.00,477.58 L337.00,471.93 L339.00,469.50 L341.00,467.96 L343.00,466.93 L345.00,466.31 L347.00,466.03 L349.00,466.06 L351.00,466.41 L353.00,467.10 L355.00,468.22 L357.00,469.90 L359.00,472.60 L361.00,464.82 L363.00,462.17 L365.00,460.81 L367.00,460.11 L369.00,459.90 L371.00,460.15 L373.00,460.91 L375.00,462.36 L377.00,465.26 L379.00,470.25 L381.00,468.13 L383.00,466.93 L385.00,466.29 L387.00,466.10 L389.00,466.33 L391.00,467.02 L393.00,468.29 L395.00,470.55 L397.00,478.18 L399.00,477.08 L401.00,476.52 L403.00,476.41 L405.00,476.74 L407.00,477.55 L409.00,479.01 L411.00,481.79 L413.00,481.76 L415.00,480.58 L417.00,480.06 L419.00,480.06 L421.00,480.58 L423.00,481.76 L425.00,480.54 L427.00,479.13 L429.00,478.50 L431.00,478.44 L433.00,478.95 L435.00,477.54 L437.00,474.32 L439.00,473.01 L441.00,472.46 L443.00,472.48 L445.00,473.10 L447.00,474.52 L449.00,478.40 L451.00,478.82 L453.00,478.23 L455.00,478.37 L457.00,479.30 L459.00,481.88 L461.00,485.58 L463.00,486.28 L465.00,486.97 L467.00,482.74 L469.00,480.89 L471.00,479.89 L473.00,479.45 L475.00,479.47 L477.00,475.22 L479.00,472.81 L481.00,472.30 L483.00,472.81 L485.00,475.22 L487.00,480.27 L489.00,478.35 L491.00,477.06 L493.00,476.20 L495.00,475.70 L497.00,475.50 L499.00,475.61 L501.00,476.02 L503.00,476.76 L505.00,477.91 L507.00,479.61 L509.00,474.93 L511.00,472.56 L513.00,471.38 L515.00,470.86 L517.00,470.86 L519.00,471.38 L521.00,472.56 L523.00,474.93 L525.00,482.46 L527.00,479.23 L529.00,477.60 L531.00,476.68 L533.00,476.25 L535.00,476.25 L537.00,476.68 L539.00,477.60 L541.00,479.23 L543.00,482.46 L545.00,490.21 L547.00,488.42 L549.00,487.52 L551.00,487.20 L553.00,487.39 L555.00,488.13 L557.00,489.64 L559.00,493.22 L561.00,499.34 L563.00,497.52 L565.00,496.51 L567.00,496.06 L569.00,496.06 L571.00,496.51 L573.00,497.52 L575.00,499.34 L577.00,501.58 L579.00,501.06 L581.00,501.06 L583.00,501.58 L585.00,502.23 L587.00,500.13 L589.00,499.07 L591.00,498.63 L593.00,498.71 L595.00,499.31 L597.00,500.61 L599.00,498.85 L601.00,497.23 L603.00,496.58 L605.00,494.69 L607.00,492.56 L609.00,490.97 L611.00,489.76 L613.00,488.86 L615.00,488.22 L617.00,487.81 L619.00,487.62 L621.00,487.64 L623.00,487.87 L625.00,488.33 L627.00,489.02 L629.00,489.98 L631.00,491.25 L633.00,492.93 L635.00,495.20 L637.00,498.06 L639.00,498.06 L641.00,498.58 L643.00,499.76 L645.00,500.40 L647.00,499.12 L649.00,498.28 L651.00,497.78 L653.00,497.60 L655.00,497.72 L657.00,498.15 L659.00,498.92 L661.00,500.10 L663.00,501.86 L665.00,504.65 L667.00,512.97 L669.00,511.32 L671.00,510.36 L673.00,509.88 L675.00,509.82 L677.00,510.17 L679.00,510.97 L681.00,512.38 L683.00,508.68 L685.00,506.80 L687.00,506.08 L689.00,506.08 L691.00,506.80 L693.00,506.94 L695.00,504.97 L697.00,504.50 L699.00,504.97 L701.00,505.32 L703.00,502.87 L705.00,501.49 L707.00,500.72 L709.00,500.41 L711.00,500.52 L713.00,501.05 L715.00,502.09 L717.00,503.89 L719.00,497.70 L721.00,495.75 L723.00,494.69 L725.00,494.18 L727.00,494.14 L729.00,488.06 L731.00,483.87 L733.00,481.64 L735.00,480.16 L737.00,479.16 L739.00,478.54 L741.00,478.24 L743.00,478.24 L744.00,538.00 L742.00,537.99 L740.00,537.99 L738.00,537.98 L736.00,537.98 L734.00,537.97 L732.00,537.97 L730.00,537.96 L728.00,537.95 L726.00,537.95 L724.00,537.94 L722.00,537.94 L720.00,537.93 L718.00,537.92 L716.00,537.92 L714.00,537.91 L712.00,537.91 L710.00,537.90 L708.00,537.90 L706.00,537.89 L704.00,537.88 L702.00,537.88 L700.00,537.87 L698.00,537.87 L696.00,537.86 L694.00,537.85 L692.00,537.85 L690.00,537.84 L688.00,537.84 L686.00,537.83 L684.00,537.83 L682.00,537.82 L680.00,537.81 L678.00,537.81 L676.00,537.80 L674.00,537.80 L672.00,537.79 L670.00,537.78 L668.00,537.78 L666.00,537.77 L664.00,537.77 L662.00,537.76 L660.00,537.76 L658.00,537.75 L656.00,537.74 L654.00,537.74 L652.00,537.73 L650.00,537.73 L648.00,537.72 L646.00,537.72 L644.00,537.71 L642.00,537.70 L640.00,537.70 L638.00,537.69 L636.00,537.69 L634.00,537.68 L632.00,537.67 L630.00,537.67 L628.00,537.66 L626.00,537.66 L624.00,537.65 L622.00,537.65 L620.00,537.64 L618.00,537.63 L616.00,537.63 L614.00,537.62 L612.00,537.62 L610.00,537.61 L608.00,537.60 L606.00,537.60 L604.00,537.59 L602.00,537.59 L600.00,537.58 L598.00,537.58 L596.00,537.57 L594.00,537.56 L592.00,537.56 L590.00,537.55 L588.00,537.55 L586.00,537.54 L584.00,537.53 L582.00,537.53 L580.00,537.52 L578.00,537.52 L576.00,537.51 L574.00,537.51 L572.00,537.50 L570.00,537.49 L568.00,537.49 L566.00,537.48 L564.00,537.48 L562.00,537.47 L560.00,537.47 L558.00,537.46 L556.00,537.45 L554.00,537.45 L552.00,537.44 L550.00,537.44 L548.00,537.43 L546.00,537.42 L544.00,537.42 L542.00,537.41 L540.00,537.41 L538.00,537.40 L536.00,537.40 L534.00,537.39 L532.00,537.38 L530.00,537.38 L528.00,537.37 L526.00,537.37 L524.00,537.36 L522.00,537.35 L520.00,537.35 L518.00,537.34 L516.00,537.34 L514.00,537.33 L512.00,537.33 L510.00,537.32 L508.00,537.31 L506.00,537.31 L504.00,537.30 L502.00,537.30 L500.00,537.29 L498.00,537.28 L496.00,537.28 L494.00,537.27 L492.00,537.27 L490.00,537.26 L488.00,537.26 L486.00,537.25 L484.00,537.24 L482.00,537.24 L480.00,537.23 L478.00,537.23 L476.00,537.22 L474.00,537.22 L472.00,537.21 L470.00,537.20 L468.00,537.20 L466.00,537.19 L464.00,537.19 L462.00,537.18 L460.00,537.17 L458.00,537.17 L456.00,537.16 L454.00,537.16 L452.00,537.15 L450.00,537.15 L448.00,537.14 L446.00,537.13 L444.00,537.13 L442.00,537.12 L440.00,537.12 L438.00,537.11 L436.00,537.10 L434.00,537.10 L432.00,537.09 L430.00,537.09 L428.00,537.08 L426.00,537.08 L424.00,537.07 L422.00,537.06 L420.00,537.06 L418.00,537.05 L416.00,537.05 L414.00,537.04 L412.00,537.03 L410.00,537.03 L408.00,537.02 L406.00,537.02 L404.00,537.01 L402.00,537.01 L400.00,537.00 L398.00,536.47 L396.00,529.93 L394.00,529.40 L392.00,528.87 L390.00,528.33 L388.00,527.80 L386.00,527.27 L384.00,526.73 L382.00,526.20 L380.00,525.67 L378.00,525.13 L376.00,524.60 L374.00,524.07 L372.00,523.53 L370.00,523.00 L368.00,522.70 L366.00,522.40 L364.00,522.10 L362.00,521.80 L360.00,521.50 L358.00,521.20 L356.00,520.90 L354.00,520.60 L352.00,520.30 L350.00,520.00 L348.00,519.20 L346.00,518.40 L344.00,517.60 L342.00,516.80 L340.00,516.00 L338.00,515.20 L336.00,514.40 L334.00,513.93 L332.00,513.80 L330.00,513.67 L328.00,513.53 L326.00,513.40 L324.00,513.27 L322.00,513.13 L320.00,513.00 L318.00,513.40 L316.00,513.80 L314.00,514.20 L312.00,514.60 L310.00,515.00 L308.00,515.40 L306.00,515.80 L304.00,516.20 L302.00,516.60 L300.00,517.00 L298.00,518.33 L296.00,519.67 L294.00,521.00 L292.00,522.33 L290.00,523.67 L288.00,525.00 L286.00,528.00 L284.00,537.00 L282.00,537.00 L280.00,537.00 L278.00,537.00 L276.00,537.00 L274.00,537.00 L272.00,537.00 Z" fill="#f6edcf"/>
<circle cx="278.0" cy="491.4" r="10.2" fill="#f6edcf"/>
<circle cx="292.3" cy="495.5" r="5.5" fill="#f6edcf"/>
<circle cx="310.3" cy="486.9" r="12.0" fill="#f6edcf"/>
<circle cx="325.2" cy="472.0" r="9.2" fill="#f6edcf"/>
<circle cx="347.8" cy="472.8" r="12.8" fill="#f6edcf"/>
<circle cx="368.9" cy="462.7" r="8.8" fill="#f6edcf"/>
<circle cx="386.9" cy="469.7" r="9.6" fill="#f6edcf"/>
<circle cx="402.5" cy="479.8" r="9.4" fill="#f6edcf"/>
<circle cx="418.0" cy="482.0" r="8.0" fill="#f6edcf"/>
<circle cx="430.2" cy="479.8" r="7.4" fill="#f6edcf"/>
<circle cx="441.9" cy="473.6" r="7.2" fill="#f6edcf"/>
<circle cx="453.6" cy="478.0" r="5.8" fill="#f6edcf"/>
<circle cx="473.9" cy="482.2" r="8.8" fill="#f6edcf"/>
<circle cx="481.0" cy="470.5" r="4.2" fill="#f6edcf"/>
<circle cx="497.3" cy="483.0" r="13.5" fill="#f6edcf"/>
<circle cx="516.0" cy="472.8" r="8.0" fill="#f6edcf"/>
<circle cx="534.0" cy="479.8" r="9.6" fill="#f6edcf"/>
<circle cx="551.2" cy="489.2" r="8.0" fill="#f6edcf"/>
<circle cx="568.0" cy="499.0" r="9.0" fill="#f6edcf"/>
<circle cx="580.0" cy="503.0" r="8.0" fill="#f6edcf"/>
<circle cx="591.7" cy="500.6" r="8.0" fill="#f6edcf"/>
<circle cx="604.0" cy="497.0" r="6.5" fill="#f6edcf"/>
<circle cx="619.8" cy="500.6" r="19.0" fill="#f6edcf"/>
<circle cx="638.0" cy="500.0" r="8.0" fill="#f6edcf"/>
<circle cx="653.2" cy="505.0" r="13.4" fill="#f6edcf"/>
<circle cx="674.3" cy="513.8" r="10.0" fill="#f6edcf"/>
<circle cx="688.0" cy="506.0" r="6.0" fill="#f6edcf"/>
<circle cx="697.0" cy="503.0" r="4.5" fill="#f6edcf"/>
<circle cx="709.5" cy="504.2" r="9.8" fill="#f6edcf"/>
<circle cx="726.2" cy="497.1" r="9.0" fill="#f6edcf"/>
<circle cx="742.0" cy="485.7" r="13.5" fill="#f6edcf"/>
<circle cx="275.9" cy="530.4" r="8.6" fill="#f6edcf"/>
<circle cx="289.4" cy="520.1" r="10.3" fill="#f6edcf"/>
<circle cx="320.0" cy="513.7" r="7.3" fill="#f6edcf"/>
<circle cx="333.6" cy="514.7" r="7.2" fill="#f6edcf"/>
<circle cx="345.5" cy="519.9" r="7.3" fill="#f6edcf"/>
<circle cx="364.0" cy="520.7" r="9.1" fill="#f6edcf"/>
<circle cx="392.7" cy="526.2" r="10.1" fill="#f6edcf"/>
<circle cx="415.3" cy="527.2" r="11.9" fill="#f6edcf"/>
<circle cx="443.7" cy="531.4" r="7.7" fill="#f6edcf"/>
<circle cx="435.8" cy="508.2" r="20.0" fill="#f6edcf"/>
<circle cx="369.5" cy="489.3" r="19.9" fill="#f6edcf"/>
<circle cx="539.2" cy="526.3" r="19.9" fill="#f6edcf"/>
<circle cx="728.3" cy="528.0" r="19.9" fill="#f6edcf"/>
<circle cx="485.2" cy="512.7" r="19.9" fill="#f6edcf"/>
<circle cx="695.0" cy="526.0" r="19.9" fill="#f6edcf"/>
<circle cx="579.5" cy="526.6" r="19.6" fill="#f6edcf"/>
<circle cx="404.8" cy="505.2" r="18.2" fill="#f6edcf"/>
<circle cx="519.8" cy="499.7" r="18.0" fill="#f6edcf"/>
<circle cx="639.4" cy="525.7" r="16.7" fill="#f6edcf"/>
<circle cx="341.3" cy="496.0" r="15.8" fill="#f6edcf"/>
<circle cx="511.3" cy="526.5" r="14.0" fill="#f6edcf"/>
<circle cx="460.1" cy="524.8" r="13.9" fill="#f6edcf"/>
<circle cx="609.8" cy="525.3" r="13.4" fill="#f6edcf"/>
<circle cx="458.4" cy="493.3" r="13.4" fill="#f6edcf"/>
<circle cx="664.6" cy="531.0" r="12.2" fill="#f6edcf"/>
<circle cx="301.8" cy="507.4" r="10.1" fill="#f6edcf"/>
<circle cx="377.1" cy="513.1" r="9.4" fill="#f6edcf"/>
<circle cx="558.9" cy="512.8" r="9.2" fill="#f6edcf"/>
<circle cx="274.4" cy="515.7" r="9.1" fill="#f6edcf"/>
<circle cx="543.5" cy="502.5" r="8.6" fill="#f6edcf"/>
<circle cx="283.7" cy="504.9" r="7.8" fill="#f6edcf"/>
<circle cx="430.0" cy="530.2" r="6.1" fill="#f6edcf"/>
<circle cx="377.1" cy="525.5" r="5.9" fill="#f6edcf"/>
<circle cx="559.2" cy="531.4" r="5.7" fill="#f6edcf"/>
<circle cx="603.3" cy="510.9" r="5.3" fill="#f6edcf"/>
<circle cx="442.0" cy="485.5" r="5.3" fill="#f6edcf"/>
<circle cx="314.1" cy="503.9" r="5.2" fill="#f6edcf"/>
<circle cx="363.3" cy="508.9" r="3.5" fill="#f6edcf"/>
<circle cx="491.3" cy="531.5" r="3.1" fill="#f6edcf"/>
<circle cx="595.2" cy="511.4" r="3.1" fill="#f6edcf"/>
<circle cx="538.1" cy="490.6" r="3.1" fill="#f6edcf"/>
<circle cx="325.3" cy="489.9" r="4.0" fill="#f6edcf"/>
<circle cx="736.5" cy="504.5" r="3.9" fill="#f6edcf"/>
<circle cx="272.7" cy="502.8" r="4.3" fill="#f6edcf"/>
<circle cx="358.3" cy="505.7" r="3.3" fill="#f6edcf"/>
<circle cx="512.9" cy="482.8" r="3.4" fill="#f6edcf"/>
<circle cx="497.7" cy="534.6" r="3.0" fill="#f6edcf"/>
<circle cx="321.9" cy="497.9" r="4.8" fill="#f6edcf"/>
<circle cx="427.9" cy="489.6" r="3.5" fill="#f6edcf"/>
<circle cx="499.7" cy="497.5" r="3.1" fill="#f6edcf"/>
<circle cx="742.8" cy="507.0" r="4.1" fill="#f6edcf"/>
<circle cx="557.3" cy="499.0" r="3.4" fill="#f6edcf"/>
<circle cx="394.0" cy="486.3" r="3.1" fill="#f6edcf"/>
<circle cx="323.2" cy="505.3" r="3.3" fill="#f6edcf"/>
<circle cx="476.3" cy="532.9" r="3.0" fill="#f6edcf"/>
<circle cx="482.0" cy="534.2" r="3.7" fill="#f6edcf"/>
<circle cx="304.1" cy="520.0" r="3.4" fill="#f6edcf"/>
<circle cx="460.2" cy="509.7" r="3.2" fill="#f6edcf"/>
<circle cx="484.9" cy="491.2" r="3.8" fill="#f6edcf"/>
<circle cx="333.3" cy="480.6" r="3.3" fill="#f6edcf"/>
<circle cx="505.2" cy="510.9" r="3.1" fill="#f6edcf"/>
<circle cx="278.0" cy="491.4" r="7.1" fill="#fcf7e5"/>
<circle cx="292.3" cy="495.5" r="3.8" fill="#fcf7e5"/>
<circle cx="310.3" cy="486.9" r="8.4" fill="#fcf7e5"/>
<circle cx="325.2" cy="472.0" r="6.4" fill="#fcf7e5"/>
<circle cx="347.8" cy="472.8" r="9.0" fill="#fcf7e5"/>
<circle cx="368.9" cy="462.7" r="6.2" fill="#fcf7e5"/>
<circle cx="386.9" cy="469.7" r="6.7" fill="#fcf7e5"/>
<circle cx="402.5" cy="479.8" r="6.6" fill="#fcf7e5"/>
<circle cx="418.0" cy="482.0" r="5.6" fill="#fcf7e5"/>
<circle cx="430.2" cy="479.8" r="5.2" fill="#fcf7e5"/>
<circle cx="441.9" cy="473.6" r="5.0" fill="#fcf7e5"/>
<circle cx="453.6" cy="478.0" r="4.1" fill="#fcf7e5"/>
<circle cx="473.9" cy="482.2" r="6.2" fill="#fcf7e5"/>
<circle cx="481.0" cy="470.5" r="2.9" fill="#fcf7e5"/>
<circle cx="497.3" cy="483.0" r="9.4" fill="#fcf7e5"/>
<circle cx="516.0" cy="472.8" r="5.6" fill="#fcf7e5"/>
<circle cx="534.0" cy="479.8" r="6.7" fill="#fcf7e5"/>
<circle cx="551.2" cy="489.2" r="5.6" fill="#fcf7e5"/>
<circle cx="568.0" cy="499.0" r="6.3" fill="#fcf7e5"/>
<circle cx="580.0" cy="503.0" r="5.6" fill="#fcf7e5"/>
<circle cx="591.7" cy="500.6" r="5.6" fill="#fcf7e5"/>
<circle cx="604.0" cy="497.0" r="4.5" fill="#fcf7e5"/>
<circle cx="619.8" cy="500.6" r="13.3" fill="#fcf7e5"/>
<circle cx="638.0" cy="500.0" r="5.6" fill="#fcf7e5"/>
<circle cx="653.2" cy="505.0" r="9.4" fill="#fcf7e5"/>
<circle cx="674.3" cy="513.8" r="7.0" fill="#fcf7e5"/>
<circle cx="688.0" cy="506.0" r="4.2" fill="#fcf7e5"/>
<circle cx="697.0" cy="503.0" r="3.1" fill="#fcf7e5"/>
<circle cx="709.5" cy="504.2" r="6.9" fill="#fcf7e5"/>
<circle cx="726.2" cy="497.1" r="6.3" fill="#fcf7e5"/>
<circle cx="742.0" cy="485.7" r="9.4" fill="#fcf7e5"/>
<circle cx="275.9" cy="530.4" r="6.0" fill="#fcf7e5"/>
<circle cx="289.4" cy="520.1" r="7.2" fill="#fcf7e5"/>
<circle cx="320.0" cy="513.7" r="5.1" fill="#fcf7e5"/>
<circle cx="333.6" cy="514.7" r="5.0" fill="#fcf7e5"/>
<circle cx="345.5" cy="519.9" r="5.1" fill="#fcf7e5"/>
<circle cx="364.0" cy="520.7" r="6.4" fill="#fcf7e5"/>
<circle cx="392.7" cy="526.2" r="7.1" fill="#fcf7e5"/>
<circle cx="415.3" cy="527.2" r="8.3" fill="#fcf7e5"/>
<circle cx="443.7" cy="531.4" r="5.4" fill="#fcf7e5"/>
<circle cx="435.8" cy="508.2" r="14.0" fill="#fcf7e5"/>
<circle cx="369.5" cy="489.3" r="14.0" fill="#fcf7e5"/>
<circle cx="539.2" cy="526.3" r="14.0" fill="#fcf7e5"/>
<circle cx="728.3" cy="528.0" r="13.9" fill="#fcf7e5"/>
<circle cx="485.2" cy="512.7" r="13.9" fill="#fcf7e5"/>
<circle cx="695.0" cy="526.0" r="13.9" fill="#fcf7e5"/>
<circle cx="579.5" cy="526.6" r="13.7" fill="#fcf7e5"/>
<circle cx="404.8" cy="505.2" r="12.8" fill="#fcf7e5"/>
<circle cx="519.8" cy="499.7" r="12.6" fill="#fcf7e5"/>
<circle cx="639.4" cy="525.7" r="11.7" fill="#fcf7e5"/>
<circle cx="341.3" cy="496.0" r="11.1" fill="#fcf7e5"/>
<circle cx="511.3" cy="526.5" r="9.8" fill="#fcf7e5"/>
<circle cx="460.1" cy="524.8" r="9.7" fill="#fcf7e5"/>
<circle cx="609.8" cy="525.3" r="9.4" fill="#fcf7e5"/>
<circle cx="458.4" cy="493.3" r="9.4" fill="#fcf7e5"/>
<circle cx="664.6" cy="531.0" r="8.6" fill="#fcf7e5"/>
<circle cx="301.8" cy="507.4" r="7.1" fill="#fcf7e5"/>
<circle cx="377.1" cy="513.1" r="6.6" fill="#fcf7e5"/>
<circle cx="558.9" cy="512.8" r="6.5" fill="#fcf7e5"/>
<circle cx="274.4" cy="515.7" r="6.3" fill="#fcf7e5"/>
<circle cx="543.5" cy="502.5" r="6.0" fill="#fcf7e5"/>
<circle cx="283.7" cy="504.9" r="5.4" fill="#fcf7e5"/>
<circle cx="430.0" cy="530.2" r="4.3" fill="#fcf7e5"/>
<circle cx="377.1" cy="525.5" r="4.1" fill="#fcf7e5"/>
<circle cx="559.2" cy="531.4" r="4.0" fill="#fcf7e5"/>
<circle cx="603.3" cy="510.9" r="3.7" fill="#fcf7e5"/>
<circle cx="442.0" cy="485.5" r="3.7" fill="#fcf7e5"/>
<circle cx="314.1" cy="503.9" r="3.7" fill="#fcf7e5"/>
<circle cx="363.3" cy="508.9" r="2.5" fill="#fcf7e5"/>
<circle cx="491.3" cy="531.5" r="2.2" fill="#fcf7e5"/>
<circle cx="595.2" cy="511.4" r="2.2" fill="#fcf7e5"/>
<circle cx="538.1" cy="490.6" r="2.2" fill="#fcf7e5"/>
<circle cx="325.3" cy="489.9" r="2.8" fill="#fcf7e5"/>
<circle cx="736.5" cy="504.5" r="2.7" fill="#fcf7e5"/>
<circle cx="272.7" cy="502.8" r="3.0" fill="#fcf7e5"/>
<circle cx="358.3" cy="505.7" r="2.3" fill="#fcf7e5"/>
<circle cx="512.9" cy="482.8" r="2.4" fill="#fcf7e5"/>
<circle cx="497.7" cy="534.6" r="2.1" fill="#fcf7e5"/>
<circle cx="321.9" cy="497.9" r="3.3" fill="#fcf7e5"/>
<circle cx="427.9" cy="489.6" r="2.5" fill="#fcf7e5"/>
<circle cx="499.7" cy="497.5" r="2.1" fill="#fcf7e5"/>
<circle cx="742.8" cy="507.0" r="2.9" fill="#fcf7e5"/>
<circle cx="557.3" cy="499.0" r="2.4" fill="#fcf7e5"/>
<circle cx="394.0" cy="486.3" r="2.2" fill="#fcf7e5"/>
<circle cx="323.2" cy="505.3" r="2.3" fill="#fcf7e5"/>
<circle cx="476.3" cy="532.9" r="2.1" fill="#fcf7e5"/>
<circle cx="482.0" cy="534.2" r="2.6" fill="#fcf7e5"/>
<circle cx="304.1" cy="520.0" r="2.3" fill="#fcf7e5"/>
<circle cx="460.2" cy="509.7" r="2.2" fill="#fcf7e5"/>
<circle cx="484.9" cy="491.2" r="2.7" fill="#fcf7e5"/>
<circle cx="333.3" cy="480.6" r="2.3" fill="#fcf7e5"/>
<circle cx="505.2" cy="510.9" r="2.2" fill="#fcf7e5"/>
</g>
<path d="M451,433 L451,554.3 L432,554.3" fill="none" stroke="#fff" stroke-width="5"/>
<path d="M516,24 L621,24" fill="none" stroke="#111111" stroke-width="1.9"/>
<path d="M621,10.7 L621,36.6" fill="none" stroke="#111111" stroke-width="1.9"/>
<path d="M259,196.4 L474.5,196.4 L474.5,223" fill="none" stroke="#111111" stroke-width="1.9"/>
<path d="M259,181.7 L259,207.5" fill="none" stroke="#111111" stroke-width="1.9"/>
<path d="M434.3,288 L434.3,314.7 L259,314.7" fill="none" stroke="#111111" stroke-width="1.9"/>
<path d="M259,299.7 L259,326" fill="none" stroke="#111111" stroke-width="1.9"/>
<path d="M451,433 L451,554.3 L432,554.3" fill="none" stroke="#111111" stroke-width="1.9"/>
<path d="M432,543 L432,566.5" fill="none" stroke="#111111" stroke-width="1.9"/>
<circle cx="516" cy="24" r="4.4" fill="#111111"/>
<circle cx="474.5" cy="223" r="4.4" fill="#111111"/>
<circle cx="434.3" cy="288" r="4.4" fill="#111111"/>
<circle cx="451" cy="433" r="4.4" fill="#111111"/>
<path d="M757.5,101.3 L767,101.3 Q773,101.3 773,107.3 L773,156.7 Q773,162.7 767,162.7 L757.5,162.7" fill="none" stroke="#111111" stroke-width="1.9"/>
<path d="M757.5,170 L767,170 Q773,170 773,176 L773,460.3 Q773,466.3 767,466.3 L757.5,466.3" fill="none" stroke="#111111" stroke-width="1.9"/>
<path d="M757.5,472.4 L767,472.4 Q773,472.4 773,478.4 L773,528 Q773,534 767,534 L757.5,534" fill="none" stroke="#111111" stroke-width="1.9"/>
<circle cx="379.8" cy="107" r="12.1" fill="#fff"/>
<circle cx="379.8" cy="107" r="10.5" fill="#0a0a0a"/>
<text x="380.0" y="113.3" text-anchor="middle" font-family="Liberation Sans" font-weight="bold" font-size="18" fill="#fff">3</text>
<circle cx="374" cy="152.4" r="12.1" fill="#fff"/>
<circle cx="374" cy="152.4" r="10.5" fill="#0a0a0a"/>
<text x="374.2" y="158.70000000000002" text-anchor="middle" font-family="Liberation Sans" font-weight="bold" font-size="18" fill="#fff">4</text>
<circle cx="576.7" cy="106.3" r="12.1" fill="#fff"/>
<circle cx="576.7" cy="106.3" r="10.5" fill="#0a0a0a"/>
<path d="M573.10,100.10 H578.90 V112.50 H575.50 V103.00 H573.10 Z" fill="#fff"/>
<circle cx="687.4" cy="87.3" r="12.1" fill="#fff"/>
<circle cx="687.4" cy="87.3" r="10.5" fill="#0a0a0a"/>
<text x="687.6" y="93.6" text-anchor="middle" font-family="Liberation Sans" font-weight="bold" font-size="18" fill="#fff">2</text>
<circle cx="523.3" cy="234.2" r="12.1" fill="#fff"/>
<circle cx="523.3" cy="234.2" r="10.5" fill="#0a0a0a"/>
<path d="M519.70,228.00 H525.50 V240.40 H522.10 V230.90 H519.70 Z" fill="#fff"/>
<g opacity="0.56">
<g fill="none" stroke="#3a3a3a" stroke-width="2.8" stroke-linejoin="bevel">
<path d="M427.3,326 H443 M435.2,326 V343.6"/>
<path d="M450.6,324.8 L456.3,343.2 L462.2,326.5 L468.1,343.2 L473.9,324.8"/>
<path d="M485.7,324.8 V343.6"/>
<path d="M496.7,343.6 V325.2 L511.3,343.2 V324.8"/>
<path d="M534.4,327.8 C533,326.1 531,325.3 529,325.3 C525.9,325.3 524.1,326.9 524.1,329 C524.1,331.4 526.2,332.2 529.4,332.9 C532.6,333.6 534.8,334.7 534.8,337 C534.8,339 532.9,340.2 529.3,340.2 C526.9,340.2 524.8,339.4 523.3,337.9"/>
<path d="M522.7,343.1 H535.4" stroke-width="2"/>
<path d="M545.7,324.8 V343.6 M557.8,324.8 L546,336.6 M550.8,331.8 L558.6,343.6"/>
<path d="M569.8,324.8 V343.6"/>
<path d="M582.3,343.6 V325.2 L594.6,343.2 V324.8"/>
</g>
<text y="356.6" font-family="Liberation Sans" font-weight="bold" font-size="8.8" fill="#3a3a3a" x="433.2 444 455.6 461 470.8 480.5 488.8 494.7 503.5 509.4 526.1 534.9 544.2 551.5 561.8 571.5 582.3 592">SCIENTIFICSKINCARE</text>
</g>
<text x="199.48" y="646.3" font-family="Liberation Sans" stroke="#111111" stroke-width="0.95" stroke-linejoin="round" font-size="24.3" fill="#111111" textLength="55.88" lengthAdjust="spacingAndGlyphs">BHA</text>
<text x="263.10" y="646.3" font-family="Liberation Sans" stroke="#111111" stroke-width="0.95" stroke-linejoin="round" font-size="24.3" fill="#111111" textLength="73.79" lengthAdjust="spacingAndGlyphs">thanh</text>
<text x="342.30" y="646.3" font-family="Liberation Sans" stroke="#111111" stroke-width="0.95" stroke-linejoin="round" font-size="24.3" fill="#111111" textLength="37.43" lengthAdjust="spacingAndGlyphs">tẩy</text>
<text x="389.30" y="646.3" font-family="Liberation Sans" stroke="#111111" stroke-width="0.95" stroke-linejoin="round" font-size="24.3" fill="#111111" textLength="25.74" lengthAdjust="spacingAndGlyphs">tế</text>
<text x="419.47" y="646.3" font-family="Liberation Sans" stroke="#111111" stroke-width="0.95" stroke-linejoin="round" font-size="24.3" fill="#111111" textLength="45.64" lengthAdjust="spacingAndGlyphs">bào</text>
<text x="472.90" y="646.3" font-family="Liberation Sans" stroke="#111111" stroke-width="0.95" stroke-linejoin="round" font-size="24.3" fill="#111111" textLength="52.58" lengthAdjust="spacingAndGlyphs">chết</text>
<text x="534.30" y="646.3" font-family="Liberation Sans" stroke="#111111" stroke-width="0.95" stroke-linejoin="round" font-size="24.3" fill="#111111" textLength="27.65" lengthAdjust="spacingAndGlyphs">cả</text>
<text x="568.60" y="646.3" font-family="Liberation Sans" stroke="#111111" stroke-width="0.95" stroke-linejoin="round" font-size="24.3" fill="#111111" textLength="50.56" lengthAdjust="spacingAndGlyphs">trên</text>
<text x="625.83" y="646.3" font-family="Liberation Sans" stroke="#111111" stroke-width="0.95" stroke-linejoin="round" font-size="24.3" fill="#111111" textLength="31.71" lengthAdjust="spacingAndGlyphs">bề</text>
<text x="664.62" y="646.3" font-family="Liberation Sans" stroke="#111111" stroke-width="0.95" stroke-linejoin="round" font-size="24.3" fill="#111111" textLength="47.81" lengthAdjust="spacingAndGlyphs">mặt</text>
<text x="720.90" y="646.3" font-family="Liberation Sans" stroke="#111111" stroke-width="0.95" stroke-linejoin="round" font-size="24.3" fill="#111111" textLength="28.19" lengthAdjust="spacingAndGlyphs">da</text>
<text x="757.90" y="646.3" font-family="Liberation Sans" stroke="#111111" stroke-width="0.95" stroke-linejoin="round" font-size="24.3" fill="#111111" textLength="27.75" lengthAdjust="spacingAndGlyphs">và</text>
<text x="792.70" y="646.3" font-family="Liberation Sans" stroke="#111111" stroke-width="0.95" stroke-linejoin="round" font-size="24.3" fill="#111111" textLength="69.34" lengthAdjust="spacingAndGlyphs">trong</text>
<text x="200.30" y="674.3" font-family="Liberation Sans" stroke="#111111" stroke-width="0.95" stroke-linejoin="round" font-size="24.3" fill="#111111" textLength="27.93" lengthAdjust="spacingAndGlyphs">cổ</text>
<text x="236.42" y="674.3" font-family="Liberation Sans" stroke="#111111" stroke-width="0.95" stroke-linejoin="round" font-size="24.3" fill="#111111" textLength="62.85" lengthAdjust="spacingAndGlyphs">nang</text>
<text x="307.95" y="674.3" font-family="Liberation Sans" stroke="#111111" stroke-width="0.95" stroke-linejoin="round" font-size="24.3" fill="#111111" textLength="53.65" lengthAdjust="spacingAndGlyphs">lông</text>
<text x="199.12" y="710.2" font-family="Liberation Sans" stroke="#111111" stroke-width="0.95" stroke-linejoin="round" font-size="24.3" fill="#111111" textLength="78.28" lengthAdjust="spacingAndGlyphs">Lượng</text>
<text x="285.20" y="710.2" font-family="Liberation Sans" stroke="#111111" stroke-width="0.95" stroke-linejoin="round" font-size="24.3" fill="#111111" textLength="45.27" lengthAdjust="spacingAndGlyphs">cồn</text>
<text x="336.80" y="710.2" font-family="Liberation Sans" stroke="#111111" stroke-width="0.95" stroke-linejoin="round" font-size="24.3" fill="#111111" textLength="43.40" lengthAdjust="spacingAndGlyphs">vừa</text>
<text x="387.60" y="710.2" font-family="Liberation Sans" stroke="#111111" stroke-width="0.95" stroke-linejoin="round" font-size="24.3" fill="#111111" textLength="31.19" lengthAdjust="spacingAndGlyphs">đủ</text>
<text x="425.90" y="710.2" font-family="Liberation Sans" stroke="#111111" stroke-width="0.95" stroke-linejoin="round" font-size="24.3" fill="#111111" textLength="54.53" lengthAdjust="spacingAndGlyphs">giúp</text>
<text x="488.00" y="710.2" font-family="Liberation Sans" stroke="#111111" stroke-width="0.95" stroke-linejoin="round" font-size="24.3" fill="#111111" textLength="34.49" lengthAdjust="spacingAndGlyphs">sát</text>
<text x="530.16" y="710.2" font-family="Liberation Sans" stroke="#111111" stroke-width="0.95" stroke-linejoin="round" font-size="24.3" fill="#111111" textLength="83.13" lengthAdjust="spacingAndGlyphs">khuẩn,</text>
<text x="620.20" y="710.2" font-family="Liberation Sans" stroke="#111111" stroke-width="0.95" stroke-linejoin="round" font-size="24.3" fill="#111111" textLength="46.83" lengthAdjust="spacingAndGlyphs">dẫn</text>
<text x="673.69" y="710.2" font-family="Liberation Sans" stroke="#111111" stroke-width="0.95" stroke-linejoin="round" font-size="24.3" fill="#111111" textLength="55.58" lengthAdjust="spacingAndGlyphs">BHA</text>
<text x="736.50" y="710.2" font-family="Liberation Sans" stroke="#111111" stroke-width="0.95" stroke-linejoin="round" font-size="24.3" fill="#111111" textLength="21.87" lengthAdjust="spacingAndGlyphs">đi</text>
<text x="764.90" y="710.2" font-family="Liberation Sans" stroke="#111111" stroke-width="0.95" stroke-linejoin="round" font-size="24.3" fill="#111111" textLength="41.87" lengthAdjust="spacingAndGlyphs">sâu</text>
<text x="811.95" y="710.2" font-family="Liberation Sans" stroke="#111111" stroke-width="0.95" stroke-linejoin="round" font-size="24.3" fill="#111111" textLength="49.36" lengthAdjust="spacingAndGlyphs">hơn</text>
<text x="200.30" y="738.1" font-family="Liberation Sans" stroke="#111111" stroke-width="0.95" stroke-linejoin="round" font-size="24.3" fill="#111111" textLength="43.14" lengthAdjust="spacingAndGlyphs">vào</text>
<text x="251.22" y="738.1" font-family="Liberation Sans" stroke="#111111" stroke-width="0.95" stroke-linejoin="round" font-size="24.3" fill="#111111" textLength="26.99" lengthAdjust="spacingAndGlyphs">da</text>
<text x="288.17" y="738.1" font-family="Liberation Sans" stroke="#111111" stroke-width="0.95" stroke-linejoin="round" font-size="24.3" fill="#111111" textLength="25.63" lengthAdjust="spacingAndGlyphs">và</text>
<text x="322.99" y="738.1" font-family="Liberation Sans" stroke="#111111" stroke-width="0.95" stroke-linejoin="round" font-size="24.3" fill="#111111" textLength="45.68" lengthAdjust="spacingAndGlyphs">hạn</text>
<text x="377.04" y="738.1" font-family="Liberation Sans" stroke="#111111" stroke-width="0.95" stroke-linejoin="round" font-size="24.3" fill="#111111" textLength="45.15" lengthAdjust="spacingAndGlyphs">chế</text>
<text x="428.96" y="738.1" font-family="Liberation Sans" stroke="#111111" stroke-width="0.95" stroke-linejoin="round" font-size="24.3" fill="#111111" textLength="59.77" lengthAdjust="spacingAndGlyphs">được</text>
<text x="497.72" y="738.1" font-family="Liberation Sans" stroke="#111111" stroke-width="0.95" stroke-linejoin="round" font-size="24.3" fill="#111111" textLength="50.71" lengthAdjust="spacingAndGlyphs">kích</text>
<text x="556.65" y="738.1" font-family="Liberation Sans" stroke="#111111" stroke-width="0.95" stroke-linejoin="round" font-size="24.3" fill="#111111" textLength="48.50" lengthAdjust="spacingAndGlyphs">ứng</text>
<text x="198.82" y="777.9" font-family="Liberation Sans" stroke="#111111" stroke-width="0.95" stroke-linejoin="round" font-size="24.3" fill="#111111" textLength="112.87" lengthAdjust="spacingAndGlyphs">Glycerin,</text>
<text x="317.49" y="777.9" font-family="Liberation Sans" stroke="#111111" stroke-width="0.95" stroke-linejoin="round" font-size="24.3" fill="#111111" textLength="114.70" lengthAdjust="spacingAndGlyphs">Butylene</text>
<text x="440.14" y="777.9" font-family="Liberation Sans" stroke="#111111" stroke-width="0.95" stroke-linejoin="round" font-size="24.3" fill="#111111" textLength="78.53" lengthAdjust="spacingAndGlyphs">Glycol</text>
<text x="526.60" y="777.9" font-family="Liberation Sans" stroke="#111111" stroke-width="0.95" stroke-linejoin="round" font-size="24.3" fill="#111111" textLength="81.44" lengthAdjust="spacingAndGlyphs">dưỡng</text>
<text x="615.40" y="777.9" font-family="Liberation Sans" stroke="#111111" stroke-width="0.95" stroke-linejoin="round" font-size="24.3" fill="#111111" textLength="45.71" lengthAdjust="spacingAndGlyphs">ẩm,</text>
<text x="667.41" y="777.9" font-family="Liberation Sans" stroke="#111111" stroke-width="0.95" stroke-linejoin="round" font-size="24.3" fill="#111111" textLength="62.72" lengthAdjust="spacingAndGlyphs">phục</text>
<text x="737.80" y="777.9" font-family="Liberation Sans" stroke="#111111" stroke-width="0.95" stroke-linejoin="round" font-size="24.3" fill="#111111" textLength="38.92" lengthAdjust="spacingAndGlyphs">hồi</text>
<text x="783.41" y="777.9" font-family="Liberation Sans" stroke="#111111" stroke-width="0.95" stroke-linejoin="round" font-size="24.3" fill="#111111" textLength="64.46" lengthAdjust="spacingAndGlyphs">hàng</text>
<text x="199.23" y="806.6" font-family="Liberation Sans" stroke="#111111" stroke-width="0.95" stroke-linejoin="round" font-size="24.3" fill="#111111" textLength="37.56" lengthAdjust="spacingAndGlyphs">rào</text>
<text x="245.64" y="806.6" font-family="Liberation Sans" stroke="#111111" stroke-width="0.95" stroke-linejoin="round" font-size="24.3" fill="#111111" textLength="45.15" lengthAdjust="spacingAndGlyphs">bảo</text>
<text x="298.26" y="806.6" font-family="Liberation Sans" stroke="#111111" stroke-width="0.95" stroke-linejoin="round" font-size="24.3" fill="#111111" textLength="28.00" lengthAdjust="spacingAndGlyphs">vệ</text>
<text x="334.62" y="806.6" font-family="Liberation Sans" stroke="#111111" stroke-width="0.95" stroke-linejoin="round" font-size="24.3" fill="#111111" textLength="27.30" lengthAdjust="spacingAndGlyphs">da</text>
<text x="199.70" y="844.6" font-family="Liberation Sans" stroke="#111111" stroke-width="0.95" stroke-linejoin="round" font-size="24.3" fill="#111111" textLength="51.49" lengthAdjust="spacingAndGlyphs">Zinc</text>
<text x="259.43" y="844.6" font-family="Liberation Sans" stroke="#111111" stroke-width="0.95" stroke-linejoin="round" font-size="24.3" fill="#111111" textLength="53.23" lengthAdjust="spacingAndGlyphs">PCA</text>
<text x="319.49" y="844.6" font-family="Liberation Sans" stroke="#111111" stroke-width="0.95" stroke-linejoin="round" font-size="24.3" fill="#111111" textLength="61.89" lengthAdjust="spacingAndGlyphs">kiểm</text>
<text x="388.30" y="844.6" font-family="Liberation Sans" stroke="#111111" stroke-width="0.95" stroke-linejoin="round" font-size="24.3" fill="#111111" textLength="48.97" lengthAdjust="spacingAndGlyphs">soát</text>
<text x="446.57" y="844.6" font-family="Liberation Sans" stroke="#111111" stroke-width="0.95" stroke-linejoin="round" font-size="24.3" fill="#111111" textLength="71.22" lengthAdjust="spacingAndGlyphs">nhờn,</text>
<text x="524.20" y="844.6" font-family="Liberation Sans" stroke="#111111" stroke-width="0.95" stroke-linejoin="round" font-size="24.3" fill="#111111" textLength="65.94" lengthAdjust="spacingAndGlyphs">giảm</text>
<text x="599.28" y="844.6" font-family="Liberation Sans" stroke="#111111" stroke-width="0.95" stroke-linejoin="round" font-size="24.3" fill="#111111" textLength="88.88" lengthAdjust="spacingAndGlyphs">khuẩn,</text>
<text x="697.10" y="844.6" font-family="Liberation Sans" stroke="#111111" stroke-width="0.95" stroke-linejoin="round" font-size="24.3" fill="#111111" textLength="65.64" lengthAdjust="spacingAndGlyphs">giảm</text>
<text x="773.80" y="844.6" font-family="Liberation Sans" stroke="#111111" stroke-width="0.95" stroke-linejoin="round" font-size="24.3" fill="#111111" textLength="69.27" lengthAdjust="spacingAndGlyphs">viêm,</text>
<text x="199.13" y="872.5" font-family="Liberation Sans" stroke="#111111" stroke-width="0.95" stroke-linejoin="round" font-size="24.3" fill="#111111" textLength="46.01" lengthAdjust="spacingAndGlyphs">làm</text>
<text x="252.87" y="872.5" font-family="Liberation Sans" stroke="#111111" stroke-width="0.95" stroke-linejoin="round" font-size="24.3" fill="#111111" textLength="37.92" lengthAdjust="spacingAndGlyphs">dịu</text>
<text x="300.39" y="872.5" font-family="Liberation Sans" stroke="#111111" stroke-width="0.95" stroke-linejoin="round" font-size="24.3" fill="#111111" textLength="27.33" lengthAdjust="spacingAndGlyphs">da</text>
<text x="198.97" y="900.5" font-family="Liberation Sans" stroke="#111111" stroke-width="0.95" stroke-linejoin="round" font-size="24.3" fill="#111111" textLength="64.33" lengthAdjust="spacingAndGlyphs">Chiết</text>
<text x="271.20" y="900.5" font-family="Liberation Sans" stroke="#111111" stroke-width="0.95" stroke-linejoin="round" font-size="24.3" fill="#111111" textLength="52.10" lengthAdjust="spacingAndGlyphs">xuất</text>
<text x="332.10" y="900.5" font-family="Liberation Sans" stroke="#111111" stroke-width="0.95" stroke-linejoin="round" font-size="24.3" fill="#111111" textLength="31.10" lengthAdjust="spacingAndGlyphs">trà</text>
<text x="372.80" y="900.5" font-family="Liberation Sans" stroke="#111111" stroke-width="0.95" stroke-linejoin="round" font-size="24.3" fill="#111111" textLength="67.64" lengthAdjust="spacingAndGlyphs">xanh,</text>
<text x="445.60" y="900.5" font-family="Liberation Sans" stroke="#111111" stroke-width="0.95" stroke-linejoin="round" font-size="24.3" fill="#111111" textLength="34.71" lengthAdjust="spacingAndGlyphs">củ</text>
<text x="487.00" y="900.5" font-family="Liberation Sans" stroke="#111111" stroke-width="0.95" stroke-linejoin="round" font-size="24.3" fill="#111111" textLength="61.78" lengthAdjust="spacingAndGlyphs">gừng</text>
<text x="556.80" y="900.5" font-family="Liberation Sans" stroke="#111111" stroke-width="0.95" stroke-linejoin="round" font-size="24.3" fill="#111111" textLength="82.80" lengthAdjust="spacingAndGlyphs">chống</text>
<text x="647.20" y="900.5" font-family="Liberation Sans" stroke="#111111" stroke-width="0.95" stroke-linejoin="round" font-size="24.3" fill="#111111" textLength="40.60" lengthAdjust="spacingAndGlyphs">oxy</text>
<text x="697.39" y="900.5" font-family="Liberation Sans" stroke="#111111" stroke-width="0.95" stroke-linejoin="round" font-size="24.3" fill="#111111" textLength="57.07" lengthAdjust="spacingAndGlyphs">hoá,</text>
<text x="761.10" y="900.5" font-family="Liberation Sans" stroke="#111111" stroke-width="0.95" stroke-linejoin="round" font-size="24.3" fill="#111111" textLength="65.33" lengthAdjust="spacingAndGlyphs">giảm</text>
<text x="200.00" y="928.3" font-family="Liberation Sans" stroke="#111111" stroke-width="0.95" stroke-linejoin="round" font-size="24.3" fill="#111111" textLength="67.64" lengthAdjust="spacingAndGlyphs">viêm,</text>
<text x="276.30" y="928.3" font-family="Liberation Sans" stroke="#111111" stroke-width="0.95" stroke-linejoin="round" font-size="24.3" fill="#111111" textLength="45.56" lengthAdjust="spacingAndGlyphs">đẩy</text>
<text x="329.94" y="928.3" font-family="Liberation Sans" stroke="#111111" stroke-width="0.95" stroke-linejoin="round" font-size="24.3" fill="#111111" textLength="78.23" lengthAdjust="spacingAndGlyphs">nhanh</text>
<text x="416.22" y="928.3" font-family="Liberation Sans" stroke="#111111" stroke-width="0.95" stroke-linejoin="round" font-size="24.3" fill="#111111" textLength="62.31" lengthAdjust="spacingAndGlyphs">phục</text>
<text x="485.99" y="928.3" font-family="Liberation Sans" stroke="#111111" stroke-width="0.95" stroke-linejoin="round" font-size="24.3" fill="#111111" textLength="39.25" lengthAdjust="spacingAndGlyphs">hồi</text>
<text x="625.97" y="31.3" font-family="Liberation Sans" stroke="#111111" stroke-width="0.95" stroke-linejoin="round" font-size="25.2" fill="#111111" textLength="63.10" lengthAdjust="spacingAndGlyphs">Lông</text>
<text x="149.87" y="202.3" font-family="Liberation Sans" stroke="#111111" stroke-width="0.95" stroke-linejoin="round" font-size="24.1" fill="#111111" textLength="30.40" lengthAdjust="spacingAndGlyphs">Bã</text>
<text x="189.94" y="202.3" font-family="Liberation Sans" stroke="#111111" stroke-width="0.95" stroke-linejoin="round" font-size="24.1" fill="#111111" textLength="65.22" lengthAdjust="spacingAndGlyphs">nhờn</text>
<text x="141.60" y="320.8" font-family="Liberation Sans" stroke="#111111" stroke-width="0.95" stroke-linejoin="round" font-size="24.1" fill="#111111" textLength="76.01" lengthAdjust="spacingAndGlyphs">Tuyến</text>
<text x="225.46" y="320.8" font-family="Liberation Sans" stroke="#111111" stroke-width="0.95" stroke-linejoin="round" font-size="24.1" fill="#111111" textLength="27.09" lengthAdjust="spacingAndGlyphs">bã</text>
<text x="297.46" y="561.0" font-family="Liberation Sans" stroke="#111111" stroke-width="0.95" stroke-linejoin="round" font-size="24.1" fill="#111111" textLength="65.79" lengthAdjust="spacingAndGlyphs">Nang</text>
<text x="372.52" y="561.0" font-family="Liberation Sans" stroke="#111111" stroke-width="0.95" stroke-linejoin="round" font-size="24.1" fill="#111111" textLength="54.66" lengthAdjust="spacingAndGlyphs">lông</text>
<text x="786.47" y="137.7" font-family="Liberation Sans" stroke="#111111" stroke-width="0.95" stroke-linejoin="round" font-size="25.1" fill="#111111" textLength="61.55" lengthAdjust="spacingAndGlyphs">Biểu</text>
<text x="856.44" y="137.7" font-family="Liberation Sans" stroke="#111111" stroke-width="0.95" stroke-linejoin="round" font-size="25.1" fill="#111111" textLength="24.46" lengthAdjust="spacingAndGlyphs">bì</text>
<text x="786.65" y="306.9" font-family="Liberation Sans" stroke="#111111" stroke-width="0.95" stroke-linejoin="round" font-size="25.1" fill="#111111" textLength="33.63" lengthAdjust="spacingAndGlyphs">Hạ</text>
<text x="832.43" y="306.9" font-family="Liberation Sans" stroke="#111111" stroke-width="0.95" stroke-linejoin="round" font-size="25.1" fill="#111111" textLength="23.42" lengthAdjust="spacingAndGlyphs">bì</text>
<text x="786.01" y="508.7" font-family="Liberation Sans" stroke="#111111" stroke-width="0.95" stroke-linejoin="round" font-size="25.1" fill="#111111" textLength="41.51" lengthAdjust="spacingAndGlyphs">Mô</text>
<text x="836.68" y="508.7" font-family="Liberation Sans" stroke="#111111" stroke-width="0.95" stroke-linejoin="round" font-size="25.1" fill="#111111" textLength="60.52" lengthAdjust="spacingAndGlyphs">dưới</text>
<text x="906.41" y="508.7" font-family="Liberation Sans" stroke="#111111" stroke-width="0.95" stroke-linejoin="round" font-size="25.1" fill="#111111" textLength="30.32" lengthAdjust="spacingAndGlyphs">da</text>
<rect x="135.6" y="598" width="767.9" height="363.3" rx="33" ry="33" fill="none" stroke="#111111" stroke-width="1.9"/>
<circle cx="182.6" cy="638.9" r="10.5" fill="#0a0a0a"/>
<path d="M179.00,632.70 H184.80 V645.10 H181.40 V635.60 H179.00 Z" fill="#fff"/>
<circle cx="182.6" cy="701.7" r="10.5" fill="#0a0a0a"/>
<text x="182.79999999999998" y="708.0" text-anchor="middle" font-family="Liberation Sans" font-weight="bold" font-size="18" fill="#fff">2</text>
<circle cx="182.6" cy="771.3" r="10.5" fill="#0a0a0a"/>
<text x="182.79999999999998" y="777.5999999999999" text-anchor="middle" font-family="Liberation Sans" font-weight="bold" font-size="18" fill="#fff">3</text>
<circle cx="182.6" cy="836.9" r="10.5" fill="#0a0a0a"/>
<text x="182.79999999999998" y="843.1999999999999" text-anchor="middle" font-family="Liberation Sans" font-weight="bold" font-size="18" fill="#fff">4</text>
</svg>
</body></html>
